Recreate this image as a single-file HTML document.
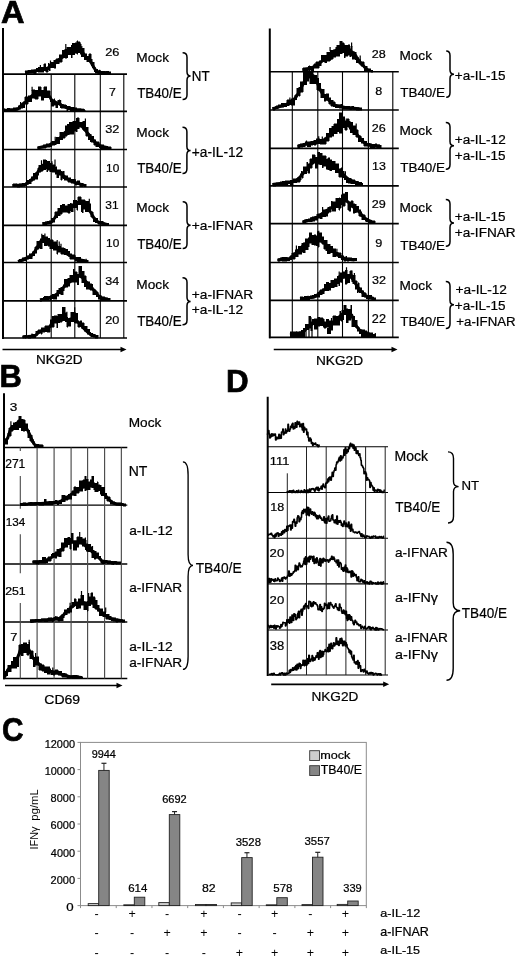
<!DOCTYPE html>
<html><head><meta charset="utf-8"><style>
html,body{margin:0;padding:0;background:#fff;width:520px;height:960px;overflow:hidden}
svg{display:block;will-change:transform}
text{font-family:"Liberation Sans",sans-serif}
</style></head><body>
<svg width="520" height="960" viewBox="0 0 520 960" font-family="Liberation Sans, sans-serif">
<rect width="520" height="960" fill="#fff"/>
<text x="1.04" y="22.85" font-size="31.30" font-weight="bold" stroke="#000" stroke-width="0.7" fill="#000" textLength="23.50" lengthAdjust="spacingAndGlyphs">A</text>
<text x="-0.46" y="387.35" font-size="31.88" font-weight="bold" stroke="#000" stroke-width="0.7" fill="#000" textLength="22.38" lengthAdjust="spacingAndGlyphs">B</text>
<text x="226.01" y="391.95" font-size="32.03" font-weight="bold" stroke="#000" stroke-width="0.7" fill="#000" textLength="22.66" lengthAdjust="spacingAndGlyphs">D</text>
<text x="2.06" y="740.82" font-size="33.10" font-weight="bold" stroke="#000" stroke-width="0.7" fill="#000" textLength="21.50" lengthAdjust="spacingAndGlyphs">C</text>
<line x1="3" y1="28" x2="3" y2="339" stroke="#000" stroke-width="2"/>
<line x1="2" y1="74.2" x2="127" y2="74.2" stroke="#000" stroke-width="1.7"/>
<line x1="2" y1="111.3" x2="127" y2="111.3" stroke="#000" stroke-width="1.7"/>
<line x1="2" y1="149.5" x2="127" y2="149.5" stroke="#000" stroke-width="1.7"/>
<line x1="2" y1="187.0" x2="127" y2="187.0" stroke="#000" stroke-width="1.7"/>
<line x1="2" y1="225.3" x2="127" y2="225.3" stroke="#000" stroke-width="1.7"/>
<line x1="2" y1="262.5" x2="127" y2="262.5" stroke="#000" stroke-width="1.7"/>
<line x1="2" y1="300.8" x2="127" y2="300.8" stroke="#000" stroke-width="1.7"/>
<line x1="2" y1="338.0" x2="127" y2="338.0" stroke="#000" stroke-width="1.7"/>
<line x1="26.5" y1="74.2" x2="26.5" y2="338.0" stroke="#000" stroke-width="1.1"/>
<line x1="51.2" y1="74.2" x2="51.2" y2="338.0" stroke="#000" stroke-width="1.1"/>
<line x1="74.8" y1="74.2" x2="74.8" y2="338.0" stroke="#000" stroke-width="1.1"/>
<line x1="100.3" y1="74.2" x2="100.3" y2="338.0" stroke="#000" stroke-width="1.1"/>
<line x1="123.8" y1="74.2" x2="123.8" y2="338.0" stroke="#000" stroke-width="1.1"/>
<path d="M25.0,70.8h2.2V73.5h-2.2ZM27.2,70.6h1.1V73.7h-1.1ZM28.3,70.2h2.2V73.3h-2.2ZM30.5,69.7h3.3V73.4h-3.3ZM33.8,69.8h2.2V73.6h-2.2ZM36.0,68.3h2.2V71.6h-2.2ZM38.2,67.3h3.3V72.3h-3.3ZM41.5,67.1h2.2V72.0h-2.2ZM43.7,63.5h2.2V70.7h-2.2ZM45.9,67.1h2.2V72.3h-2.2ZM48.1,63.4h1.1V69.8h-1.1ZM49.2,64.0h1.1V70.9h-1.1ZM50.3,62.0h3.3V67.7h-3.3ZM53.6,60.1h2.2V68.1h-2.2ZM55.8,58.6h3.3V63.8h-3.3ZM59.1,54.9h3.3V62.1h-3.3ZM62.4,50.1h2.2V57.6h-2.2ZM64.6,49.3h2.2V58.3h-2.2ZM66.8,47.1h1.1V57.9h-1.1ZM67.9,47.0h3.3V54.7h-3.3ZM71.2,45.1h1.1V57.8h-1.1ZM72.3,43.0h2.2V54.9h-2.2ZM74.5,42.9h2.2V53.2h-2.2ZM76.7,40.5h1.1V54.4h-1.1ZM77.8,41.7h2.2V52.7h-2.2ZM80.0,43.7h1.1V54.2h-1.1ZM81.1,48.3h3.3V56.8h-3.3ZM84.4,53.8h2.2V59.8h-2.2ZM86.6,56.2h2.2V61.7h-2.2ZM88.8,53.8h2.2V61.0h-2.2ZM91.0,59.4h1.1V65.8h-1.1ZM92.1,62.4h2.2V67.7h-2.2ZM94.3,66.8h1.1V71.5h-1.1ZM95.4,69.4h2.2V73.0h-2.2ZM97.6,70.9h3.3V73.5h-3.3ZM100.9,71.4h3.3V73.9h-3.3ZM104.2,71.7h2.2V74.7h-2.2ZM106.4,71.3h2.2V73.9h-2.2ZM108.6,71.7h2.2V74.2h-2.2Z" fill="#000" stroke="#000" stroke-width="0.5" shape-rendering="crispEdges"/>
<path d="M40.4,68.3V65.0M50.5,63.0V60.4M65.8,50.3V43.9M81.8,49.3V45.9M99.6,71.9V69.8" fill="none" stroke="#000" stroke-width="1.2"/>
<path d="M25.0,72.5L27.2,72.2L28.3,72.0L30.5,71.7L33.8,71.2L36.0,70.7L38.2,70.0L41.5,69.4L43.7,69.2L45.9,69.0L48.1,67.7L49.2,67.0L50.3,66.3L53.6,64.7L55.8,62.4L59.1,59.4L62.4,57.3L64.6,55.4L66.8,51.8L67.9,51.0L71.2,49.0L72.3,48.6L74.5,47.9L76.7,47.2L77.8,47.1L80.0,47.5L81.1,49.5L84.4,55.2L86.6,58.1L88.8,59.6L91.0,62.3L92.1,64.3L94.3,68.2L95.4,69.8L97.6,71.7L100.9,72.2L104.2,72.5L106.4,72.7L108.6,72.9" fill="none" stroke="#000" stroke-width="3.0" stroke-linejoin="round"/>
<path d="M4.0,108.9h1.1V111.1h-1.1ZM5.1,109.0h2.2V111.1h-2.2ZM7.3,108.0h2.2V111.9h-2.2ZM9.5,108.8h2.2V111.2h-2.2ZM11.7,109.0h1.1V111.8h-1.1ZM12.8,107.9h3.3V110.7h-3.3ZM16.1,107.7h2.2V110.3h-2.2ZM18.3,105.6h2.2V109.4h-2.2ZM20.5,103.9h2.2V108.4h-2.2ZM22.7,101.8h2.2V107.9h-2.2ZM24.9,96.9h3.3V104.1h-3.3ZM28.2,95.8h3.3V101.6h-3.3ZM31.5,89.7h3.3V98.4h-3.3ZM34.8,90.1h3.3V99.2h-3.3ZM38.1,86.5h3.3V96.2h-3.3ZM41.4,90.0h2.2V100.2h-2.2ZM43.6,86.5h3.3V97.5h-3.3ZM46.9,90.5h3.3V97.9h-3.3ZM50.2,96.5h1.1V101.7h-1.1ZM51.3,100.5h2.2V106.0h-2.2ZM53.5,98.7h1.1V105.0h-1.1ZM54.6,100.7h1.1V105.3h-1.1ZM55.7,102.0h2.2V107.7h-2.2ZM57.9,100.0h1.1V104.6h-1.1ZM59.0,99.8h1.1V104.8h-1.1ZM60.1,102.6h1.1V107.7h-1.1ZM61.2,104.1h2.2V108.1h-2.2ZM63.4,104.7h2.2V108.0h-2.2ZM65.6,105.1h1.1V108.7h-1.1ZM66.7,106.0h1.1V110.5h-1.1ZM67.8,106.4h2.2V109.9h-2.2ZM70.0,107.7h2.2V110.9h-2.2ZM72.2,107.4h2.2V110.6h-2.2ZM74.4,107.6h2.2V110.5h-2.2ZM76.6,108.5h3.3V111.6h-3.3ZM79.9,108.8h1.1V111.0h-1.1ZM81.0,109.1h3.3V111.8h-3.3ZM84.3,109.7h1.1V111.9h-1.1Z" fill="#000" stroke="#000" stroke-width="0.5" shape-rendering="crispEdges"/>
<path d="M20.6,104.9V102.0M32.1,90.7V86.7M60.6,103.6V100.1M83.3,110.1V108.7" fill="none" stroke="#000" stroke-width="1.2"/>
<path d="M4.0,110.3L5.1,110.3L7.3,110.2L9.5,110.1L11.7,110.0L12.8,109.9L16.1,109.3L18.3,108.7L20.5,106.1L22.7,104.2L24.9,102.6L28.2,100.2L31.5,96.1L34.8,93.5L38.1,92.2L41.4,92.7L43.6,93.0L46.9,93.4L50.2,97.4L51.3,99.6L53.5,101.5L54.6,101.9L55.7,102.3L57.9,103.2L59.0,103.8L60.1,104.4L61.2,105.0L63.4,106.1L65.6,107.2L66.7,107.4L67.8,107.7L70.0,108.2L72.2,108.8L74.4,109.3L76.6,109.7L79.9,110.0L81.0,110.1L84.3,110.4" fill="none" stroke="#000" stroke-width="3.0" stroke-linejoin="round"/>
<path d="M37.5,146.6h2.2V149.5h-2.2ZM39.7,146.0h3.3V148.4h-3.3ZM43.0,144.5h3.3V148.3h-3.3ZM46.3,143.6h3.3V147.4h-3.3ZM49.6,142.5h2.2V146.9h-2.2ZM51.8,141.1h3.3V145.4h-3.3ZM55.1,139.7h1.1V144.9h-1.1ZM56.2,137.2h3.3V143.5h-3.3ZM59.5,132.3h3.3V139.9h-3.3ZM62.8,132.7h2.2V138.2h-2.2ZM65.0,125.8h2.2V136.0h-2.2ZM67.2,124.0h2.2V134.6h-2.2ZM69.4,122.1h3.3V134.1h-3.3ZM72.7,121.1h1.1V134.1h-1.1ZM73.8,121.4h2.2V131.4h-2.2ZM76.0,118.0h1.1V131.7h-1.1ZM77.1,117.7h2.2V128.7h-2.2ZM79.3,122.0h3.3V127.4h-3.3ZM82.6,121.4h2.2V130.3h-2.2ZM84.8,123.3h1.1V130.8h-1.1ZM85.9,127.2h2.2V136.1h-2.2ZM88.1,133.9h2.2V139.6h-2.2ZM90.3,134.2h1.1V141.7h-1.1ZM91.4,136.1h2.2V142.3h-2.2ZM93.6,139.8h2.2V145.1h-2.2ZM95.8,141.9h3.3V146.6h-3.3ZM99.1,143.6h1.1V147.9h-1.1ZM100.2,144.6h3.3V148.8h-3.3ZM103.5,146.0h3.3V149.2h-3.3ZM106.8,146.0h1.1V149.1h-1.1ZM107.9,146.6h3.3V149.1h-3.3Z" fill="#000" stroke="#000" stroke-width="0.5" shape-rendering="crispEdges"/>
<path d="M55.2,140.7V136.8M85.4,124.3V118.4" fill="none" stroke="#000" stroke-width="1.2"/>
<path d="M37.5,148.0L39.7,147.5L43.0,146.7L46.3,145.9L49.6,145.1L51.8,144.0L55.1,142.3L56.2,141.7L59.5,138.7L62.8,135.0L65.0,132.5L67.2,130.9L69.4,129.2L72.7,126.5L73.8,125.5L76.0,123.5L77.1,122.4L79.3,123.5L82.6,127.0L84.8,129.7L85.9,131.1L88.1,133.7L90.3,136.4L91.4,137.8L93.6,140.7L95.8,143.1L99.1,145.4L100.2,146.0L103.5,146.7L106.8,147.4L107.9,147.6" fill="none" stroke="#000" stroke-width="3.0" stroke-linejoin="round"/>
<path d="M12.5,183.8h2.2V186.7h-2.2ZM14.7,183.7h1.1V186.7h-1.1ZM15.8,183.7h1.1V186.4h-1.1ZM16.9,184.3h2.2V187.3h-2.2ZM19.1,183.9h1.1V187.1h-1.1ZM20.2,183.6h2.2V186.6h-2.2ZM22.4,183.2h2.2V186.3h-2.2ZM24.6,182.5h2.2V185.3h-2.2ZM26.8,180.1h2.2V184.2h-2.2ZM29.0,179.3h2.2V183.9h-2.2ZM31.2,176.7h2.2V181.1h-2.2ZM33.4,173.3h1.1V180.4h-1.1ZM34.5,172.9h3.3V179.4h-3.3ZM37.8,167.8h1.1V175.4h-1.1ZM38.9,165.0h2.2V172.1h-2.2ZM41.1,164.9h2.2V171.0h-2.2ZM43.3,159.5h2.2V169.6h-2.2ZM45.5,160.3h1.1V168.7h-1.1ZM46.6,161.4h1.1V171.6h-1.1ZM47.7,161.2h2.2V170.2h-2.2ZM49.9,163.4h2.2V171.8h-2.2ZM52.1,164.8h1.1V172.2h-1.1ZM53.2,164.8h2.2V172.1h-2.2ZM55.4,166.7h1.1V174.1h-1.1ZM56.5,169.9h2.2V177.7h-2.2ZM58.7,169.8h2.2V175.0h-2.2ZM60.9,171.3h1.1V180.1h-1.1ZM62.0,171.7h1.1V178.2h-1.1ZM63.1,171.4h1.1V178.7h-1.1ZM64.2,175.8h3.3V180.4h-3.3ZM67.5,177.8h3.3V182.0h-3.3ZM70.8,179.2h2.2V183.3h-2.2ZM73.0,179.4h2.2V183.0h-2.2ZM75.2,181.5h2.2V185.0h-2.2ZM77.4,180.7h2.2V184.8h-2.2ZM79.6,183.2h3.3V186.9h-3.3ZM82.9,183.8h1.1V186.3h-1.1ZM84.0,184.0h2.2V186.9h-2.2Z" fill="#000" stroke="#000" stroke-width="0.5" shape-rendering="crispEdges"/>
<path d="M37.5,173.9V170.9M41.5,165.9V160.3M51.9,164.4V161.3M55.0,165.8V159.6M75.3,182.5V179.5" fill="none" stroke="#000" stroke-width="1.2"/>
<path d="M12.5,185.5L14.7,185.4L15.8,185.4L16.9,185.3L19.1,185.2L20.2,185.2L22.4,185.1L24.6,185.0L26.8,183.6L29.0,181.8L31.2,179.9L33.4,177.9L34.5,176.9L37.8,172.1L38.9,170.4L41.1,167.3L43.3,165.0L45.5,164.5L46.6,165.1L47.7,165.6L49.9,166.9L52.1,168.5L53.2,169.5L55.4,170.8L56.5,171.3L58.7,172.4L60.9,173.7L62.0,174.6L63.1,175.5L64.2,176.4L67.5,179.0L70.8,180.5L73.0,181.6L75.2,182.6L77.4,183.2L79.6,183.9L82.9,184.9L84.0,185.2" fill="none" stroke="#000" stroke-width="3.0" stroke-linejoin="round"/>
<path d="M42.5,222.2h2.2V225.5h-2.2ZM44.7,221.9h1.1V224.9h-1.1ZM45.8,222.2h1.1V225.0h-1.1ZM46.9,221.4h2.2V224.1h-2.2ZM49.1,220.9h2.2V224.4h-2.2ZM51.3,218.4h3.3V222.1h-3.3ZM54.6,211.8h3.3V217.9h-3.3ZM57.9,208.4h2.2V215.8h-2.2ZM60.1,205.0h2.2V214.0h-2.2ZM62.3,204.1h2.2V212.1h-2.2ZM64.5,205.9h3.3V212.2h-3.3ZM67.8,204.3h2.2V213.1h-2.2ZM70.0,203.2h1.1V210.7h-1.1ZM71.1,203.5h2.2V211.7h-2.2ZM73.3,200.0h3.3V207.7h-3.3ZM76.6,201.2h1.1V210.1h-1.1ZM77.7,196.6h3.3V204.6h-3.3ZM81.0,199.5h1.1V211.7h-1.1ZM82.1,199.5h1.1V212.5h-1.1ZM83.2,199.7h2.2V209.2h-2.2ZM85.4,201.3h3.3V211.6h-3.3ZM88.7,203.9h2.2V211.4h-2.2ZM90.9,211.8h2.2V217.0h-2.2ZM93.1,217.0h2.2V221.7h-2.2ZM95.3,218.2h2.2V222.8h-2.2ZM97.5,221.4h2.2V224.1h-2.2ZM99.7,221.2h3.3V224.2h-3.3ZM103.0,222.5h2.2V224.9h-2.2ZM105.2,223.2h1.1V225.4h-1.1ZM106.3,223.3h2.2V225.5h-2.2Z" fill="#000" stroke="#000" stroke-width="0.5" shape-rendering="crispEdges"/>
<path d="M89.3,204.9V198.8" fill="none" stroke="#000" stroke-width="1.2"/>
<path d="M42.5,223.8L44.7,223.4L45.8,223.2L46.9,223.0L49.1,222.6L51.3,222.2L54.6,218.1L57.9,213.2L60.1,211.0L62.3,210.7L64.5,210.4L67.8,209.8L70.0,208.0L71.1,207.1L73.3,205.4L76.6,203.0L77.7,202.8L81.0,203.2L82.1,204.0L83.2,204.7L85.4,206.4L88.7,209.7L90.9,212.6L93.1,216.6L95.3,220.2L97.5,221.5L99.7,222.8L103.0,223.6L105.2,224.0L106.3,224.3" fill="none" stroke="#000" stroke-width="3.0" stroke-linejoin="round"/>
<path d="M18.0,260.1h1.1V262.3h-1.1ZM19.1,259.3h3.3V262.3h-3.3ZM22.4,257.5h1.1V261.3h-1.1ZM23.5,257.5h3.3V260.8h-3.3ZM26.8,255.5h2.2V259.3h-2.2ZM29.0,253.7h3.3V258.5h-3.3ZM32.3,251.7h2.2V255.9h-2.2ZM34.5,246.5h2.2V253.4h-2.2ZM36.7,241.1h2.2V249.2h-2.2ZM38.9,240.7h1.1V248.4h-1.1ZM40.0,238.9h2.2V248.5h-2.2ZM42.2,235.0h2.2V242.7h-2.2ZM44.4,236.9h2.2V245.9h-2.2ZM46.6,236.6h1.1V245.4h-1.1ZM47.7,238.2h2.2V246.4h-2.2ZM49.9,239.6h3.3V248.6h-3.3ZM53.2,241.7h3.3V250.4h-3.3ZM56.5,244.7h1.1V254.3h-1.1ZM57.6,246.4h3.3V252.1h-3.3ZM60.9,247.6h3.3V254.3h-3.3ZM64.2,248.3h1.1V254.7h-1.1ZM65.3,249.4h2.2V254.6h-2.2ZM67.5,251.4h2.2V256.4h-2.2ZM69.7,253.9h2.2V259.4h-2.2ZM71.9,254.7h3.3V259.0h-3.3ZM75.2,257.1h2.2V261.1h-2.2ZM77.4,257.4h3.3V261.5h-3.3ZM80.7,259.1h3.3V262.1h-3.3ZM84.0,260.1h3.3V262.8h-3.3ZM87.3,260.2h1.1V262.6h-1.1Z" fill="#000" stroke="#000" stroke-width="0.5" shape-rendering="crispEdges"/>
<path d="M41.8,239.9V233.7M44.9,237.9V233.4M57.2,245.7V239.9M59.2,247.4V241.5M61.0,248.6V243.7M86.1,261.1V258.8" fill="none" stroke="#000" stroke-width="1.2"/>
<path d="M18.0,261.5L19.1,261.1L22.4,259.9L23.5,259.4L26.8,258.0L29.0,256.8L32.3,254.9L34.5,252.0L36.7,248.2L38.9,244.2L40.0,242.8L42.2,240.5L44.4,241.0L46.6,241.4L47.7,242.2L49.9,244.4L53.2,246.5L56.5,247.3L57.6,247.4L60.9,250.0L64.2,252.3L65.3,253.0L67.5,254.2L69.7,255.4L71.9,256.4L75.2,258.1L77.4,259.1L80.7,259.9L84.0,260.7L87.3,261.5" fill="none" stroke="#000" stroke-width="3.0" stroke-linejoin="round"/>
<path d="M40.0,298.8h2.2V301.0h-2.2ZM42.2,298.1h1.1V300.6h-1.1ZM43.3,297.3h1.1V299.9h-1.1ZM44.4,296.4h3.3V300.0h-3.3ZM47.7,296.5h1.1V300.2h-1.1ZM48.8,296.3h1.1V299.4h-1.1ZM49.9,295.6h1.1V299.5h-1.1ZM51.0,295.0h1.1V298.8h-1.1ZM52.1,294.4h1.1V298.6h-1.1ZM53.2,294.0h3.3V299.0h-3.3ZM56.5,290.0h2.2V296.1h-2.2ZM58.7,288.3h2.2V293.6h-2.2ZM60.9,287.3h2.2V294.8h-2.2ZM63.1,284.6h1.1V290.5h-1.1ZM64.2,279.2h3.3V287.1h-3.3ZM67.5,278.3h2.2V286.4h-2.2ZM69.7,275.4h3.3V282.2h-3.3ZM73.0,269.0h1.1V282.3h-1.1ZM74.1,271.8h3.3V282.3h-3.3ZM77.4,274.4h1.1V284.8h-1.1ZM78.5,266.0h3.3V276.0h-3.3ZM81.8,271.1h2.2V282.7h-2.2ZM84.0,275.6h2.2V286.7h-2.2ZM86.2,281.6h3.3V289.1h-3.3ZM89.5,283.6h2.2V290.0h-2.2ZM91.7,284.4h1.1V289.9h-1.1ZM92.8,289.8h3.3V294.6h-3.3ZM96.1,291.9h2.2V296.7h-2.2ZM98.3,295.2h2.2V299.2h-2.2ZM100.5,295.7h1.1V299.9h-1.1ZM101.6,296.7h3.3V299.8h-3.3ZM104.9,297.6h3.3V300.0h-3.3ZM108.2,298.4h2.2V300.6h-2.2Z" fill="#000" stroke="#000" stroke-width="0.5" shape-rendering="crispEdges"/>
<path d="M40.0,300.0L42.2,299.4L43.3,299.2L44.4,298.9L47.7,298.1L48.8,297.8L49.9,297.5L51.0,297.1L52.1,296.7L53.2,296.2L56.5,294.4L58.7,292.7L60.9,290.6L63.1,287.9L64.2,286.5L67.5,283.6L69.7,282.0L73.0,279.5L74.1,278.7L77.4,276.6L78.5,275.9L81.8,277.0L84.0,279.4L86.2,281.7L89.5,285.0L91.7,287.6L92.8,289.0L96.1,293.0L98.3,295.5L100.5,297.6L101.6,297.9L104.9,298.7L108.2,299.6" fill="none" stroke="#000" stroke-width="3.0" stroke-linejoin="round"/>
<path d="M22.5,335.7h2.2V337.9h-2.2ZM24.7,335.4h1.1V338.1h-1.1ZM25.8,335.5h2.2V337.9h-2.2ZM28.0,335.2h3.3V338.0h-3.3ZM31.3,334.7h1.1V337.8h-1.1ZM32.4,334.4h3.3V337.7h-3.3ZM35.7,331.4h2.2V335.4h-2.2ZM37.9,329.5h3.3V333.1h-3.3ZM41.2,327.9h1.1V334.1h-1.1ZM42.3,327.9h2.2V332.3h-2.2ZM44.5,325.6h2.2V331.7h-2.2ZM46.7,325.8h3.3V332.2h-3.3ZM50.0,319.7h2.2V327.3h-2.2ZM52.2,316.4h2.2V327.4h-2.2ZM54.4,315.9h2.2V323.1h-2.2ZM56.6,316.3h1.1V327.6h-1.1ZM57.7,314.0h2.2V322.7h-2.2ZM59.9,314.3h2.2V322.3h-2.2ZM62.1,307.0h3.3V320.6h-3.3ZM65.4,312.9h1.1V321.7h-1.1ZM66.5,317.4h1.1V327.0h-1.1ZM67.6,318.5h3.3V326.3h-3.3ZM70.9,312.0h3.3V321.9h-3.3ZM74.2,312.3h1.1V322.7h-1.1ZM75.3,313.2h2.2V323.1h-2.2ZM77.5,322.1h2.2V327.0h-2.2ZM79.7,320.5h2.2V326.9h-2.2ZM81.9,322.9h2.2V328.9h-2.2ZM84.1,326.2h3.3V331.3h-3.3ZM87.4,329.4h2.2V334.3h-2.2ZM89.6,332.0h1.1V335.9h-1.1ZM90.7,333.2h2.2V336.6h-2.2ZM92.9,334.3h2.2V337.1h-2.2ZM95.1,335.3h3.3V338.0h-3.3Z" fill="#000" stroke="#000" stroke-width="0.5" shape-rendering="crispEdges"/>
<path d="M32.0,335.7V333.4M66.9,318.4V311.7M74.7,313.3V307.3" fill="none" stroke="#000" stroke-width="1.2"/>
<path d="M22.5,337.0L24.7,336.8L25.8,336.7L28.0,336.6L31.3,336.3L32.4,336.2L35.7,335.3L37.9,333.1L41.2,331.0L42.3,330.4L44.5,330.1L46.7,329.7L50.0,326.5L52.2,322.6L54.4,320.7L56.6,320.3L57.7,320.1L59.9,319.7L62.1,319.3L65.4,319.4L66.5,319.6L67.6,319.9L70.9,319.0L74.2,319.2L75.3,319.7L77.5,321.5L79.7,323.8L81.9,326.3L84.1,328.6L87.4,331.8L89.6,333.7L90.7,334.3L92.9,335.2L95.1,336.0" fill="none" stroke="#000" stroke-width="3.0" stroke-linejoin="round"/>
<text x="105.16" y="56.18" font-size="11.83" stroke="#000" stroke-width="0.22" fill="#000" textLength="14.25" lengthAdjust="spacingAndGlyphs">26</text>
<text x="109.08" y="96.30" font-size="11.59" stroke="#000" stroke-width="0.22" fill="#000" textLength="6.85" lengthAdjust="spacingAndGlyphs">7</text>
<text x="105.29" y="133.18" font-size="11.69" stroke="#000" stroke-width="0.22" fill="#000" textLength="14.18" lengthAdjust="spacingAndGlyphs">32</text>
<text x="106.11" y="171.88" font-size="11.69" stroke="#000" stroke-width="0.22" fill="#000" textLength="13.19" lengthAdjust="spacingAndGlyphs">10</text>
<text x="105.32" y="209.08" font-size="11.83" stroke="#000" stroke-width="0.22" fill="#000" textLength="13.30" lengthAdjust="spacingAndGlyphs">31</text>
<text x="106.11" y="247.38" font-size="11.69" stroke="#000" stroke-width="0.22" fill="#000" textLength="13.19" lengthAdjust="spacingAndGlyphs">10</text>
<text x="105.30" y="285.08" font-size="11.55" stroke="#000" stroke-width="0.22" fill="#000" textLength="13.90" lengthAdjust="spacingAndGlyphs">34</text>
<text x="105.16" y="324.08" font-size="11.83" stroke="#000" stroke-width="0.22" fill="#000" textLength="14.18" lengthAdjust="spacingAndGlyphs">20</text>
<text x="136.31" y="61.86" font-size="13.61" stroke="#000" stroke-width="0.22" fill="#000" textLength="32.68" lengthAdjust="spacingAndGlyphs">Mock</text>
<text x="136.31" y="136.86" font-size="13.61" stroke="#000" stroke-width="0.22" fill="#000" textLength="32.68" lengthAdjust="spacingAndGlyphs">Mock</text>
<text x="136.31" y="211.86" font-size="13.61" stroke="#000" stroke-width="0.22" fill="#000" textLength="32.68" lengthAdjust="spacingAndGlyphs">Mock</text>
<text x="136.31" y="288.66" font-size="13.61" stroke="#000" stroke-width="0.22" fill="#000" textLength="32.68" lengthAdjust="spacingAndGlyphs">Mock</text>
<text x="137.13" y="97.76" font-size="13.74" stroke="#000" stroke-width="0.22" fill="#000" textLength="44.50" lengthAdjust="spacingAndGlyphs">TB40/E</text>
<text x="137.13" y="172.86" font-size="13.74" stroke="#000" stroke-width="0.22" fill="#000" textLength="44.50" lengthAdjust="spacingAndGlyphs">TB40/E</text>
<text x="137.13" y="248.66" font-size="13.74" stroke="#000" stroke-width="0.22" fill="#000" textLength="44.50" lengthAdjust="spacingAndGlyphs">TB40/E</text>
<text x="137.13" y="325.66" font-size="13.74" stroke="#000" stroke-width="0.22" fill="#000" textLength="44.50" lengthAdjust="spacingAndGlyphs">TB40/E</text>
<path d="M182.6,52.7 Q187.0,52.7 187.0,57.2 L187.0,71.8 Q187.0,76.0 190.6,76.0 Q187.0,76.0 187.0,80.2 L187.0,94.9 Q187.0,99.4 182.6,99.4" fill="none" stroke="#000" stroke-width="1.5"/>
<text x="191.73" y="80.90" font-size="14.35" stroke="#000" stroke-width="0.22" fill="#000" textLength="17.88" lengthAdjust="spacingAndGlyphs">NT</text>
<path d="M182.5,127.3 Q186.9,127.3 186.9,131.8 L186.9,146.4 Q186.9,150.6 190.6,150.6 Q186.9,150.6 186.9,154.8 L186.9,169.1 Q186.9,173.6 182.5,173.6" fill="none" stroke="#000" stroke-width="1.5"/>
<text x="191.82" y="156.86" font-size="14.08" stroke="#000" stroke-width="0.22" fill="#000" textLength="51.41" lengthAdjust="spacingAndGlyphs">+a-IL-12</text>
<path d="M182.7,201.8 Q187.0,201.8 187.0,206.3 L187.0,221.0 Q187.0,225.2 190.6,225.2 Q187.0,225.2 187.0,229.4 L187.0,244.0 Q187.0,248.5 182.7,248.5" fill="none" stroke="#000" stroke-width="1.5"/>
<text x="191.81" y="230.37" font-size="13.21" stroke="#000" stroke-width="0.22" fill="#000" textLength="61.35" lengthAdjust="spacingAndGlyphs">+a-IFNAR</text>
<path d="M182.5,277.8 Q187.0,277.8 187.0,282.3 L187.0,297.3 Q187.0,301.5 190.6,301.5 Q187.0,301.5 187.0,305.7 L187.0,320.3 Q187.0,324.8 182.5,324.8" fill="none" stroke="#000" stroke-width="1.5"/>
<text x="191.81" y="298.62" font-size="13.21" stroke="#000" stroke-width="0.22" fill="#000" textLength="61.35" lengthAdjust="spacingAndGlyphs">+a-IFNAR</text>
<text x="191.82" y="314.37" font-size="13.38" stroke="#000" stroke-width="0.22" fill="#000" textLength="51.41" lengthAdjust="spacingAndGlyphs">+a-IL-12</text>
<line x1="2.5" y1="349.5" x2="121.5" y2="349.5" stroke="#000" stroke-width="1.5"/>
<path d="M120.5,346.7 L126.5,349.5 L120.5,352.3 Z" fill="#000"/>
<text x="35.92" y="364.37" font-size="12.68" stroke="#000" stroke-width="0.22" fill="#000" textLength="46.70" lengthAdjust="spacingAndGlyphs">NKG2D</text>
<line x1="269.8" y1="28.5" x2="269.8" y2="338.3" stroke="#000" stroke-width="2"/>
<line x1="269" y1="71.75" x2="398.8" y2="71.75" stroke="#000" stroke-width="1.7"/>
<line x1="269" y1="110.0" x2="398.8" y2="110.0" stroke="#000" stroke-width="1.7"/>
<line x1="269" y1="148.3" x2="398.8" y2="148.3" stroke="#000" stroke-width="1.7"/>
<line x1="269" y1="185.8" x2="398.8" y2="185.8" stroke="#000" stroke-width="1.7"/>
<line x1="269" y1="223.7" x2="398.8" y2="223.7" stroke="#000" stroke-width="1.7"/>
<line x1="269" y1="262.5" x2="398.8" y2="262.5" stroke="#000" stroke-width="1.7"/>
<line x1="269" y1="300.3" x2="398.8" y2="300.3" stroke="#000" stroke-width="1.7"/>
<line x1="269" y1="337.3" x2="398.8" y2="337.3" stroke="#000" stroke-width="1.7"/>
<line x1="292.3" y1="71.75" x2="292.3" y2="337.3" stroke="#000" stroke-width="1.1"/>
<line x1="317.8" y1="71.75" x2="317.8" y2="337.3" stroke="#000" stroke-width="1.1"/>
<line x1="342.5" y1="71.75" x2="342.5" y2="337.3" stroke="#000" stroke-width="1.1"/>
<line x1="368.4" y1="71.75" x2="368.4" y2="337.3" stroke="#000" stroke-width="1.1"/>
<line x1="392.8" y1="71.75" x2="392.8" y2="337.3" stroke="#000" stroke-width="1.1"/>
<path d="M302.5,67.9h2.2V70.9h-2.2ZM304.7,67.7h3.3V71.3h-3.3ZM308.0,66.2h1.1V69.2h-1.1ZM309.1,66.2h2.2V70.0h-2.2ZM311.3,66.7h2.2V70.8h-2.2ZM313.5,63.7h2.2V68.3h-2.2ZM315.7,61.5h3.3V68.0h-3.3ZM319.0,60.6h2.2V65.9h-2.2ZM321.2,55.2h3.3V61.7h-3.3ZM324.5,55.0h2.2V62.5h-2.2ZM326.7,52.4h3.3V61.2h-3.3ZM330.0,50.3h1.1V60.4h-1.1ZM331.1,50.4h2.2V59.4h-2.2ZM333.3,49.9h2.2V57.0h-2.2ZM335.5,47.0h1.1V56.2h-1.1ZM336.6,45.0h3.3V56.1h-3.3ZM339.9,41.0h2.2V53.8h-2.2ZM342.1,42.8h2.2V52.7h-2.2ZM344.3,44.9h1.1V57.9h-1.1ZM345.4,45.0h2.2V56.0h-2.2ZM347.6,44.8h2.2V55.0h-2.2ZM349.8,48.8h1.1V56.6h-1.1ZM350.9,45.8h1.1V56.3h-1.1ZM352.0,51.9h3.3V59.0h-3.3ZM355.3,52.3h1.1V59.8h-1.1ZM356.4,57.8h2.2V62.6h-2.2ZM358.6,59.7h2.2V64.0h-2.2ZM360.8,61.5h3.3V66.3h-3.3ZM364.1,66.4h3.3V70.5h-3.3ZM367.4,68.9h3.3V71.4h-3.3ZM370.7,70.1h2.2V72.2h-2.2Z" fill="#000" stroke="#000" stroke-width="0.5" shape-rendering="crispEdges"/>
<path d="M330.1,51.3V47.1M351.6,46.8V42.4M360.2,60.7V55.5" fill="none" stroke="#000" stroke-width="1.2"/>
<path d="M302.5,70.0L304.7,69.5L308.0,68.6L309.1,68.3L311.3,67.8L313.5,66.9L315.7,65.6L319.0,63.5L321.2,61.8L324.5,59.1L326.7,57.5L330.0,55.0L331.1,54.1L333.3,52.4L335.5,50.6L336.6,49.9L339.9,49.3L342.1,49.1L344.3,49.5L345.4,49.7L347.6,50.0L349.8,50.9L350.9,51.4L352.0,51.8L355.3,55.1L356.4,56.9L358.6,60.1L360.8,62.9L364.1,66.6L367.4,69.9L370.7,70.7" fill="none" stroke="#000" stroke-width="3.0" stroke-linejoin="round"/>
<path d="M272.5,107.4h2.2V110.0h-2.2ZM274.7,106.8h1.1V109.4h-1.1ZM275.8,105.6h2.2V108.9h-2.2ZM278.0,104.5h3.3V107.4h-3.3ZM281.3,103.0h2.2V107.0h-2.2ZM283.5,103.2h3.3V106.9h-3.3ZM286.8,99.8h2.2V105.5h-2.2ZM289.0,99.8h2.2V104.7h-2.2ZM291.2,98.8h3.3V105.4h-3.3ZM294.5,94.5h2.2V99.6h-2.2ZM296.7,88.2h2.2V95.1h-2.2ZM298.9,87.2h1.1V96.4h-1.1ZM300.0,81.9h3.3V92.3h-3.3ZM303.3,71.2h3.3V84.6h-3.3ZM306.6,70.9h2.2V81.0h-2.2ZM308.8,65.6h1.1V78.3h-1.1ZM309.9,71.0h3.3V83.6h-3.3ZM313.2,75.3h3.3V83.8h-3.3ZM316.5,78.0h2.2V90.4h-2.2ZM318.7,83.0h2.2V90.5h-2.2ZM320.9,89.3h3.3V97.8h-3.3ZM324.2,94.4h2.2V101.2h-2.2ZM326.4,93.5h2.2V100.3h-2.2ZM328.6,97.8h2.2V104.4h-2.2ZM330.8,100.4h2.2V106.0h-2.2ZM333.0,101.9h2.2V106.9h-2.2ZM335.2,104.5h3.3V107.8h-3.3ZM338.5,104.7h2.2V108.3h-2.2ZM340.7,104.4h2.2V108.1h-2.2ZM342.9,106.2h2.2V109.0h-2.2ZM345.1,106.3h2.2V109.4h-2.2ZM347.3,106.2h2.2V109.1h-2.2ZM349.5,106.5h2.2V109.5h-2.2ZM351.7,106.4h2.2V109.2h-2.2ZM353.9,107.3h2.2V109.9h-2.2ZM356.1,107.5h3.3V110.1h-3.3ZM359.4,107.7h2.2V110.3h-2.2Z" fill="#000" stroke="#000" stroke-width="0.5" shape-rendering="crispEdges"/>
<path d="M289.9,100.8V97.5M305.6,72.2V68.1" fill="none" stroke="#000" stroke-width="1.2"/>
<path d="M272.5,108.8L274.7,108.1L275.8,107.8L278.0,107.1L281.3,106.1L283.5,105.5L286.8,104.1L289.0,103.0L291.2,101.9L294.5,98.8L296.7,96.0L298.9,92.2L300.0,90.0L303.3,83.6L306.6,78.0L308.8,75.5L309.9,74.6L313.2,75.6L316.5,81.0L318.7,86.1L320.9,91.3L324.2,96.4L326.4,98.1L328.6,99.9L330.8,102.1L333.0,104.2L335.2,105.3L338.5,106.1L340.7,106.5L342.9,107.0L345.1,107.5L347.3,107.7L349.5,107.9L351.7,108.1L353.9,108.2L356.1,108.4L359.4,108.7" fill="none" stroke="#000" stroke-width="3.0" stroke-linejoin="round"/>
<path d="M297.5,144.7h2.2V147.8h-2.2ZM299.7,143.5h2.2V147.1h-2.2ZM301.9,143.5h1.1V147.4h-1.1ZM303.0,143.2h2.2V146.5h-2.2ZM305.2,141.9h2.2V145.0h-2.2ZM307.4,141.8h3.3V146.7h-3.3ZM310.7,141.2h2.2V145.4h-2.2ZM312.9,140.9h1.1V144.5h-1.1ZM314.0,140.3h2.2V145.0h-2.2ZM316.2,138.9h3.3V143.8h-3.3ZM319.5,139.2h1.1V144.2h-1.1ZM320.6,139.1h3.3V144.3h-3.3ZM323.9,137.7h2.2V144.2h-2.2ZM326.1,133.4h3.3V141.3h-3.3ZM329.4,128.4h2.2V137.2h-2.2ZM331.6,126.4h2.2V136.2h-2.2ZM333.8,123.5h3.3V133.8h-3.3ZM337.1,119.4h2.2V131.8h-2.2ZM339.3,112.5h3.3V133.3h-3.3ZM342.6,116.8h2.2V127.9h-2.2ZM344.8,120.9h2.2V130.2h-2.2ZM347.0,118.7h2.2V126.7h-2.2ZM349.2,121.2h1.1V129.2h-1.1ZM350.3,122.3h2.2V132.5h-2.2ZM352.5,125.8h3.3V134.6h-3.3ZM355.8,129.5h2.2V137.0h-2.2ZM358.0,135.5h3.3V141.8h-3.3ZM361.3,138.2h2.2V143.3h-2.2ZM363.5,141.1h3.3V146.4h-3.3ZM366.8,143.1h3.3V146.3h-3.3ZM370.1,143.7h2.2V147.7h-2.2ZM372.3,144.4h2.2V147.8h-2.2ZM374.5,143.8h2.2V147.4h-2.2ZM376.7,144.5h1.1V148.1h-1.1ZM377.8,144.5h2.2V147.6h-2.2ZM380.0,145.3h1.1V147.9h-1.1Z" fill="#000" stroke="#000" stroke-width="0.5" shape-rendering="crispEdges"/>
<path d="M306.5,142.9V140.6M318.7,139.9V136.2M322.3,140.1V136.5M346.3,121.9V118.5M356.2,130.5V123.6" fill="none" stroke="#000" stroke-width="1.2"/>
<path d="M297.5,146.2L299.7,145.7L301.9,145.2L303.0,144.9L305.2,144.3L307.4,143.8L310.7,143.3L312.9,143.1L314.0,142.9L316.2,142.7L319.5,141.8L320.6,141.5L323.9,140.4L326.1,138.6L329.4,134.5L331.6,132.5L333.8,130.9L337.1,128.4L339.3,126.8L342.6,123.0L344.8,123.9L347.0,124.8L349.2,126.3L350.3,127.1L352.5,128.8L355.8,132.9L358.0,135.6L361.3,139.8L363.5,142.0L366.8,144.5L370.1,145.3L372.3,145.5L374.5,145.7L376.7,145.9L377.8,146.0L380.0,146.2" fill="none" stroke="#000" stroke-width="3.0" stroke-linejoin="round"/>
<path d="M272.5,183.2h3.3V186.2h-3.3ZM275.8,182.9h1.1V185.9h-1.1ZM276.9,182.5h3.3V185.4h-3.3ZM280.2,181.6h1.1V185.1h-1.1ZM281.3,181.9h1.1V184.4h-1.1ZM282.4,181.4h2.2V184.7h-2.2ZM284.6,180.8h3.3V184.6h-3.3ZM287.9,180.6h2.2V183.6h-2.2ZM290.1,180.3h3.3V184.9h-3.3ZM293.4,178.5h3.3V182.7h-3.3ZM296.7,177.9h3.3V182.3h-3.3ZM300.0,173.8h1.1V180.2h-1.1ZM301.1,171.0h1.1V176.8h-1.1ZM302.2,171.8h1.1V178.2h-1.1ZM303.3,166.5h3.3V173.9h-3.3ZM306.6,162.0h1.1V170.7h-1.1ZM307.7,163.8h2.2V173.3h-2.2ZM309.9,158.5h2.2V168.0h-2.2ZM312.1,154.6h3.3V162.7h-3.3ZM315.4,157.2h2.2V168.0h-2.2ZM317.6,152.4h2.2V164.4h-2.2ZM319.8,153.0h2.2V164.6h-2.2ZM322.0,155.5h1.1V167.7h-1.1ZM323.1,155.8h3.3V166.2h-3.3ZM326.4,159.3h1.1V169.3h-1.1ZM327.5,157.5h2.2V169.6h-2.2ZM329.7,159.8h2.2V170.9h-2.2ZM331.9,161.1h3.3V169.7h-3.3ZM335.2,163.7h3.3V172.5h-3.3ZM338.5,168.5h2.2V177.2h-2.2ZM340.7,167.8h1.1V176.6h-1.1ZM341.8,171.0h2.2V177.8h-2.2ZM344.0,173.7h1.1V179.8h-1.1ZM345.1,175.4h1.1V179.6h-1.1ZM346.2,176.5h2.2V182.6h-2.2ZM348.4,178.2h2.2V183.4h-2.2ZM350.6,178.6h1.1V183.5h-1.1ZM351.7,179.5h3.3V183.9h-3.3ZM355.0,181.2h3.3V185.4h-3.3ZM358.3,181.7h1.1V185.4h-1.1ZM359.4,182.2h2.2V185.0h-2.2ZM361.6,183.2h1.1V185.6h-1.1Z" fill="#000" stroke="#000" stroke-width="0.5" shape-rendering="crispEdges"/>
<path d="M345.4,176.4V171.3" fill="none" stroke="#000" stroke-width="1.2"/>
<path d="M272.5,184.5L275.8,184.1L276.9,184.0L280.2,183.6L281.3,183.5L282.4,183.4L284.6,183.1L287.9,182.7L290.1,182.5L293.4,181.4L296.7,180.3L300.0,177.1L301.1,175.8L302.2,174.5L303.3,173.2L306.6,169.2L307.7,167.9L309.9,165.1L312.1,163.4L315.4,161.1L317.6,160.1L319.8,159.1L322.0,159.9L323.1,160.4L326.4,162.3L327.5,163.1L329.7,164.8L331.9,166.0L335.2,167.7L338.5,171.0L340.7,173.1L341.8,174.0L344.0,175.8L345.1,176.8L346.2,177.7L348.4,179.2L350.6,180.3L351.7,180.9L355.0,182.5L358.3,183.4L359.4,183.7L361.6,184.3" fill="none" stroke="#000" stroke-width="3.0" stroke-linejoin="round"/>
<path d="M302.5,220.6h1.1V223.4h-1.1ZM303.6,219.7h2.2V222.8h-2.2ZM305.8,219.1h2.2V221.7h-2.2ZM308.0,218.8h2.2V221.7h-2.2ZM310.2,217.9h2.2V221.7h-2.2ZM312.4,216.8h2.2V221.0h-2.2ZM314.6,216.0h2.2V220.4h-2.2ZM316.8,214.3h1.1V220.3h-1.1ZM317.9,213.9h2.2V218.0h-2.2ZM320.1,213.1h2.2V218.8h-2.2ZM322.3,209.8h3.3V216.9h-3.3ZM325.6,209.6h2.2V216.1h-2.2ZM327.8,207.4h1.1V213.4h-1.1ZM328.9,206.7h2.2V212.0h-2.2ZM331.1,201.3h1.1V208.6h-1.1ZM332.2,201.5h3.3V211.3h-3.3ZM335.5,198.2h3.3V207.5h-3.3ZM338.8,197.5h1.1V210.3h-1.1ZM339.9,198.3h1.1V208.4h-1.1ZM341.0,194.8h2.2V204.9h-2.2ZM343.2,193.9h2.2V206.4h-2.2ZM345.4,192.3h2.2V202.0h-2.2ZM347.6,201.0h1.1V209.7h-1.1ZM348.7,202.0h2.2V211.1h-2.2ZM350.9,200.5h2.2V207.1h-2.2ZM353.1,203.8h2.2V213.2h-2.2ZM355.3,204.3h1.1V212.5h-1.1ZM356.4,206.1h2.2V212.4h-2.2ZM358.6,209.7h2.2V216.1h-2.2ZM360.8,211.8h1.1V216.8h-1.1ZM361.9,214.5h3.3V219.9h-3.3ZM365.2,217.8h1.1V221.4h-1.1ZM366.3,218.2h2.2V221.7h-2.2ZM368.5,220.3h3.3V223.3h-3.3ZM371.8,220.6h3.3V222.9h-3.3Z" fill="#000" stroke="#000" stroke-width="0.5" shape-rendering="crispEdges"/>
<path d="M311.2,218.9V217.0M322.6,210.8V207.1" fill="none" stroke="#000" stroke-width="1.2"/>
<path d="M302.5,222.0L303.6,221.7L305.8,221.2L308.0,220.6L310.2,220.1L312.4,219.5L314.6,218.4L316.8,217.3L317.9,216.7L320.1,215.2L322.3,213.4L325.6,211.0L327.8,209.9L328.9,209.3L331.1,207.9L332.2,207.1L335.5,204.6L338.8,202.1L339.9,201.3L341.0,200.5L343.2,198.9L345.4,199.8L347.6,201.6L348.7,202.5L350.9,204.7L353.1,206.9L355.3,208.7L356.4,209.5L358.6,211.1L360.8,213.8L361.9,215.2L365.2,218.4L366.3,219.0L368.5,220.4L371.8,221.7" fill="none" stroke="#000" stroke-width="3.0" stroke-linejoin="round"/>
<path d="M277.5,258.7h2.2V261.2h-2.2ZM279.7,257.5h2.2V260.8h-2.2ZM281.9,257.3h2.2V261.1h-2.2ZM284.1,257.3h3.3V261.1h-3.3ZM287.4,257.7h2.2V260.9h-2.2ZM289.6,255.5h2.2V259.8h-2.2ZM291.8,253.4h1.1V258.8h-1.1ZM292.9,252.5h2.2V259.2h-2.2ZM295.1,249.6h3.3V256.9h-3.3ZM298.4,246.3h3.3V254.0h-3.3ZM301.7,243.3h1.1V251.6h-1.1ZM302.8,242.8h2.2V252.8h-2.2ZM305.0,238.7h3.3V249.8h-3.3ZM308.3,237.8h1.1V246.8h-1.1ZM309.4,232.7h2.2V243.4h-2.2ZM311.6,235.2h2.2V244.6h-2.2ZM313.8,234.9h2.2V245.1h-2.2ZM316.0,236.1h2.2V245.8h-2.2ZM318.2,236.7h1.1V247.0h-1.1ZM319.3,232.7h2.2V242.4h-2.2ZM321.5,236.7h2.2V244.2h-2.2ZM323.7,240.2h2.2V249.4h-2.2ZM325.9,240.4h1.1V250.7h-1.1ZM327.0,244.1h3.3V253.8h-3.3ZM330.3,246.4h2.2V252.5h-2.2ZM332.5,248.9h3.3V256.7h-3.3ZM335.8,252.2h2.2V256.4h-2.2ZM338.0,252.9h3.3V257.7h-3.3ZM341.3,255.7h2.2V259.8h-2.2ZM343.5,257.8h2.2V261.4h-2.2ZM345.7,256.4h1.1V260.8h-1.1ZM346.8,257.5h2.2V261.2h-2.2ZM349.0,257.8h3.3V260.9h-3.3ZM352.3,258.0h2.2V260.9h-2.2ZM354.5,258.3h2.2V260.9h-2.2Z" fill="#000" stroke="#000" stroke-width="0.5" shape-rendering="crispEdges"/>
<path d="M296.4,250.6V245.4M317.6,237.1V231.3M318.8,237.7V230.8M336.9,253.2V248.7" fill="none" stroke="#000" stroke-width="1.2"/>
<path d="M277.5,260.0L279.7,259.8L281.9,259.6L284.1,259.3L287.4,259.0L289.6,258.8L291.8,257.0L292.9,255.9L295.1,253.7L298.4,250.4L301.7,247.1L302.8,246.0L305.0,244.2L308.3,241.6L309.4,240.6L311.6,238.4L313.8,238.2L316.0,239.2L318.2,240.2L319.3,240.4L321.5,241.0L323.7,242.4L325.9,244.6L327.0,245.8L330.3,248.4L332.5,250.0L335.8,253.3L338.0,255.2L341.3,256.9L343.5,258.0L345.7,258.8L346.8,259.0L349.0,259.2L352.3,259.7L354.5,259.9" fill="none" stroke="#000" stroke-width="3.0" stroke-linejoin="round"/>
<path d="M300.0,296.5h3.3V299.8h-3.3ZM303.3,297.4h1.1V299.9h-1.1ZM304.4,296.4h3.3V299.6h-3.3ZM307.7,296.6h2.2V299.6h-2.2ZM309.9,295.5h2.2V298.6h-2.2ZM312.1,295.0h2.2V298.4h-2.2ZM314.3,294.0h3.3V297.2h-3.3ZM317.6,292.1h2.2V297.2h-2.2ZM319.8,289.5h2.2V294.9h-2.2ZM322.0,288.7h2.2V293.9h-2.2ZM324.2,284.2h2.2V290.9h-2.2ZM326.4,282.2h2.2V290.7h-2.2ZM328.6,283.1h2.2V290.0h-2.2ZM330.8,280.0h3.3V287.5h-3.3ZM334.1,278.8h3.3V286.6h-3.3ZM337.4,276.3h1.1V283.9h-1.1ZM338.5,275.2h1.1V285.5h-1.1ZM339.6,272.7h2.2V282.4h-2.2ZM341.8,275.6h1.1V282.8h-1.1ZM342.9,271.7h2.2V278.1h-2.2ZM345.1,270.3h2.2V284.4h-2.2ZM347.3,274.0h2.2V282.6h-2.2ZM349.5,270.5h2.2V277.6h-2.2ZM351.7,274.5h1.1V281.9h-1.1ZM352.8,275.4h2.2V283.8h-2.2ZM355.0,280.8h2.2V289.1h-2.2ZM357.2,284.5h1.1V292.7h-1.1ZM358.3,282.8h1.1V291.6h-1.1ZM359.4,287.8h2.2V292.7h-2.2ZM361.6,290.8h2.2V296.5h-2.2ZM363.8,292.9h2.2V297.4h-2.2ZM366.0,295.0h3.3V298.7h-3.3ZM369.3,295.3h2.2V299.1h-2.2ZM371.5,297.2h2.2V300.3h-2.2ZM373.7,297.5h2.2V300.6h-2.2Z" fill="#000" stroke="#000" stroke-width="0.5" shape-rendering="crispEdges"/>
<path d="M308.1,297.6V295.8M339.2,276.2V271.6M346.5,271.3V267.3M352.0,275.5V270.5M354.4,276.4V273.1" fill="none" stroke="#000" stroke-width="1.2"/>
<path d="M300.0,298.8L303.3,298.4L304.4,298.2L307.7,297.9L309.9,297.6L312.1,297.3L314.3,297.1L317.6,294.7L319.8,292.7L322.0,291.2L324.2,289.7L326.4,288.2L328.6,287.0L330.8,285.9L334.1,283.4L337.4,280.1L338.5,279.5L339.6,278.9L341.8,277.9L342.9,277.3L345.1,276.5L347.3,275.6L349.5,275.8L351.7,277.9L352.8,279.2L355.0,282.9L357.2,286.2L358.3,287.6L359.4,288.9L361.6,291.6L363.8,293.8L366.0,296.0L369.3,297.1L371.5,297.8L373.7,298.4" fill="none" stroke="#000" stroke-width="3.0" stroke-linejoin="round"/>
<path d="M290.0,333.2h2.2V336.8h-2.2ZM292.2,332.8h3.3V335.7h-3.3ZM295.5,331.9h1.1V335.7h-1.1ZM296.6,332.8h2.2V336.6h-2.2ZM298.8,331.9h2.2V335.6h-2.2ZM301.0,330.0h2.2V333.9h-2.2ZM303.2,328.0h2.2V332.1h-2.2ZM305.4,324.4h3.3V329.9h-3.3ZM308.7,316.0h2.2V328.2h-2.2ZM310.9,321.8h1.1V330.6h-1.1ZM312.0,319.2h2.2V324.5h-2.2ZM314.2,318.8h3.3V329.2h-3.3ZM317.5,317.0h2.2V326.0h-2.2ZM319.7,317.6h3.3V325.6h-3.3ZM323.0,319.1h1.1V327.2h-1.1ZM324.1,322.6h2.2V328.4h-2.2ZM326.3,319.1h2.2V327.3h-2.2ZM328.5,320.5h2.2V330.3h-2.2ZM330.7,320.6h2.2V330.3h-2.2ZM332.9,315.6h3.3V325.2h-3.3ZM336.2,316.0h3.3V325.2h-3.3ZM339.5,311.4h1.1V320.3h-1.1ZM340.6,313.3h1.1V321.4h-1.1ZM341.7,310.4h2.2V319.6h-2.2ZM343.9,305.0h2.2V314.5h-2.2ZM346.1,308.5h2.2V322.5h-2.2ZM348.3,309.1h2.2V320.1h-2.2ZM350.5,305.0h1.1V315.6h-1.1ZM351.6,316.0h3.3V326.5h-3.3ZM354.9,320.0h2.2V327.4h-2.2ZM357.1,326.8h2.2V331.0h-2.2ZM359.3,329.8h3.3V333.6h-3.3ZM362.6,329.8h2.2V333.3h-2.2ZM364.8,330.6h2.2V334.1h-2.2ZM367.0,332.8h3.3V336.0h-3.3ZM370.3,333.2h2.2V336.3h-2.2ZM372.5,334.3h3.3V336.8h-3.3Z" fill="#000" stroke="#000" stroke-width="0.5" shape-rendering="crispEdges"/>
<path d="M311.0,322.8V317.3M331.5,321.6V318.1M375.3,335.3V332.9" fill="none" stroke="#000" stroke-width="1.2"/>
<path d="M290.0,335.0L292.2,334.6L295.5,334.1L296.6,333.9L298.8,333.6L301.0,333.2L303.2,332.2L305.4,329.6L308.7,326.5L310.9,325.0L312.0,324.2L314.2,322.6L317.5,321.3L319.7,321.3L323.0,322.4L324.1,322.7L326.3,323.2L328.5,323.6L330.7,323.9L332.9,322.8L336.2,320.5L339.5,316.6L340.6,315.5L341.7,314.5L343.9,312.5L346.1,311.9L348.3,312.8L350.5,314.2L351.6,314.9L354.9,323.7L357.1,327.1L359.3,329.8L362.6,331.7L364.8,332.9L367.0,333.7L370.3,334.8L372.5,335.5" fill="none" stroke="#000" stroke-width="3.0" stroke-linejoin="round"/>
<path d="M290,331.5h15v5.5h-15z M361,332.5h12v4.5h-12z M327,328h4v6h-4z" fill="#000"/>
<path d="M306,326V337 M309,326V337 M312,324V337" stroke="#000" stroke-width="1.2"/>
<text x="371.87" y="57.89" font-size="11.27" stroke="#000" stroke-width="0.22" fill="#000" textLength="13.96" lengthAdjust="spacingAndGlyphs">28</text>
<text x="375.24" y="94.58" font-size="11.83" stroke="#000" stroke-width="0.22" fill="#000" textLength="6.98" lengthAdjust="spacingAndGlyphs">8</text>
<text x="371.87" y="132.38" font-size="11.69" stroke="#000" stroke-width="0.22" fill="#000" textLength="14.03" lengthAdjust="spacingAndGlyphs">26</text>
<text x="372.07" y="170.39" font-size="11.27" stroke="#000" stroke-width="0.22" fill="#000" textLength="13.82" lengthAdjust="spacingAndGlyphs">13</text>
<text x="371.87" y="207.88" font-size="11.69" stroke="#000" stroke-width="0.22" fill="#000" textLength="14.03" lengthAdjust="spacingAndGlyphs">29</text>
<text x="375.23" y="247.09" font-size="11.27" stroke="#000" stroke-width="0.22" fill="#000" textLength="7.06" lengthAdjust="spacingAndGlyphs">9</text>
<text x="372.00" y="284.09" font-size="11.13" stroke="#000" stroke-width="0.22" fill="#000" textLength="13.96" lengthAdjust="spacingAndGlyphs">32</text>
<text x="371.87" y="322.50" font-size="11.86" stroke="#000" stroke-width="0.22" fill="#000" textLength="14.10" lengthAdjust="spacingAndGlyphs">22</text>
<text x="399.41" y="59.86" font-size="13.61" stroke="#000" stroke-width="0.22" fill="#000" textLength="32.58" lengthAdjust="spacingAndGlyphs">Mock</text>
<text x="399.41" y="135.36" font-size="13.61" stroke="#000" stroke-width="0.22" fill="#000" textLength="32.58" lengthAdjust="spacingAndGlyphs">Mock</text>
<text x="399.41" y="211.86" font-size="13.61" stroke="#000" stroke-width="0.22" fill="#000" textLength="32.58" lengthAdjust="spacingAndGlyphs">Mock</text>
<text x="399.41" y="289.86" font-size="13.61" stroke="#000" stroke-width="0.22" fill="#000" textLength="32.58" lengthAdjust="spacingAndGlyphs">Mock</text>
<text x="400.23" y="97.36" font-size="13.61" stroke="#000" stroke-width="0.22" fill="#000" textLength="44.81" lengthAdjust="spacingAndGlyphs">TB40/E</text>
<text x="400.23" y="172.36" font-size="13.61" stroke="#000" stroke-width="0.22" fill="#000" textLength="44.81" lengthAdjust="spacingAndGlyphs">TB40/E</text>
<text x="400.23" y="249.86" font-size="13.61" stroke="#000" stroke-width="0.22" fill="#000" textLength="44.81" lengthAdjust="spacingAndGlyphs">TB40/E</text>
<text x="400.23" y="326.11" font-size="13.61" stroke="#000" stroke-width="0.22" fill="#000" textLength="44.81" lengthAdjust="spacingAndGlyphs">TB40/E</text>
<path d="M446.2,51.0 Q450.0,51.0 450.0,55.5 L450.0,70.1 Q450.0,74.3 454.0,74.3 Q450.0,74.3 450.0,78.5 L450.0,92.8 Q450.0,97.3 446.2,97.3" fill="none" stroke="#000" stroke-width="1.5"/>
<text x="454.82" y="79.86" font-size="13.57" stroke="#000" stroke-width="0.22" fill="#000" textLength="50.75" lengthAdjust="spacingAndGlyphs">+a-IL-15</text>
<path d="M445.8,122.4 Q450.0,122.4 450.0,126.9 L450.0,141.5 Q450.0,145.7 454.0,145.7 Q450.0,145.7 450.0,149.9 L450.0,164.8 Q450.0,169.3 445.8,169.3" fill="none" stroke="#000" stroke-width="1.5"/>
<text x="454.82" y="144.37" font-size="12.68" stroke="#000" stroke-width="0.22" fill="#000" textLength="50.89" lengthAdjust="spacingAndGlyphs">+a-IL-12</text>
<text x="454.82" y="160.37" font-size="13.21" stroke="#000" stroke-width="0.22" fill="#000" textLength="50.75" lengthAdjust="spacingAndGlyphs">+a-IL-15</text>
<path d="M445.8,199.4 Q450.0,199.4 450.0,203.9 L450.0,218.8 Q450.0,223.0 454.0,223.0 Q450.0,223.0 450.0,227.2 L450.0,241.8 Q450.0,246.3 445.8,246.3" fill="none" stroke="#000" stroke-width="1.5"/>
<text x="454.82" y="221.12" font-size="13.21" stroke="#000" stroke-width="0.22" fill="#000" textLength="50.75" lengthAdjust="spacingAndGlyphs">+a-IL-15</text>
<text x="454.82" y="236.86" font-size="13.57" stroke="#000" stroke-width="0.22" fill="#000" textLength="60.84" lengthAdjust="spacingAndGlyphs">+a-IFNAR</text>
<path d="M445.8,281.4 Q450.0,281.4 450.0,285.9 L450.0,300.6 Q450.0,304.8 454.0,304.8 Q450.0,304.8 450.0,309.0 L450.0,323.9 Q450.0,328.4 445.8,328.4" fill="none" stroke="#000" stroke-width="1.5"/>
<text x="455.57" y="294.37" font-size="12.68" stroke="#000" stroke-width="0.22" fill="#000" textLength="51.41" lengthAdjust="spacingAndGlyphs">+a-IL-12</text>
<text x="454.82" y="310.37" font-size="13.21" stroke="#000" stroke-width="0.22" fill="#000" textLength="50.75" lengthAdjust="spacingAndGlyphs">+a-IL-15</text>
<text x="456.34" y="326.12" font-size="12.50" stroke="#000" stroke-width="0.22" fill="#000" textLength="59.30" lengthAdjust="spacingAndGlyphs">+a-IFNAR</text>
<line x1="273.75" y1="349.5" x2="392.5" y2="349.5" stroke="#000" stroke-width="1.5"/>
<path d="M391.5,346.7 L397.5,349.5 L391.5,352.3 Z" fill="#000"/>
<text x="315.90" y="364.87" font-size="13.38" stroke="#000" stroke-width="0.22" fill="#000" textLength="47.22" lengthAdjust="spacingAndGlyphs">NKG2D</text>
<line x1="4" y1="393.3" x2="4" y2="679.3" stroke="#000" stroke-width="2"/>
<line x1="3" y1="447.5" x2="127.3" y2="447.5" stroke="#000" stroke-width="1.3"/>
<line x1="3" y1="505.2" x2="127.3" y2="505.2" stroke="#000" stroke-width="1.3"/>
<line x1="3" y1="564.0" x2="127.3" y2="564.0" stroke="#000" stroke-width="1.3"/>
<line x1="3" y1="622.0" x2="127.3" y2="622.0" stroke="#000" stroke-width="1.3"/>
<line x1="3" y1="678.5" x2="127.3" y2="678.5" stroke="#000" stroke-width="1.3"/>
<line x1="37.1" y1="447.5" x2="37.1" y2="678.5" stroke="#4a4a4a" stroke-width="1.15"/>
<line x1="54.1" y1="447.5" x2="54.1" y2="678.5" stroke="#4a4a4a" stroke-width="1.15"/>
<line x1="71.1" y1="447.5" x2="71.1" y2="678.5" stroke="#4a4a4a" stroke-width="1.15"/>
<line x1="87.6" y1="447.5" x2="87.6" y2="678.5" stroke="#4a4a4a" stroke-width="1.15"/>
<line x1="104.6" y1="447.5" x2="104.6" y2="678.5" stroke="#4a4a4a" stroke-width="1.15"/>
<line x1="121.35" y1="447.5" x2="121.35" y2="678.5" stroke="#4a4a4a" stroke-width="1.15"/>
<line x1="20.3" y1="447.3" x2="20.3" y2="451" stroke="#4a4a4a" stroke-width="1.1"/>
<line x1="20.3" y1="476" x2="20.3" y2="508.7" stroke="#4a4a4a" stroke-width="1.1"/>
<line x1="20.3" y1="534.3" x2="20.3" y2="573.3" stroke="#4a4a4a" stroke-width="1.1"/>
<line x1="20.3" y1="603" x2="20.3" y2="678.5" stroke="#4a4a4a" stroke-width="1.1"/>
<path d="M4.5,440.1h1.1V444.2h-1.1ZM5.6,437.9h2.2V444.0h-2.2ZM7.8,432.8h1.1V438.5h-1.1ZM8.9,427.5h1.1V435.3h-1.1ZM10.0,426.7h1.1V436.0h-1.1ZM11.1,425.1h2.2V431.4h-2.2ZM13.3,422.7h2.2V429.7h-2.2ZM15.5,422.4h3.3V429.7h-3.3ZM18.8,416.0h2.2V427.6h-2.2ZM21.0,419.4h2.2V430.6h-2.2ZM23.2,419.5h2.2V431.3h-2.2ZM25.4,423.8h2.2V430.6h-2.2ZM27.6,430.1h2.2V437.6h-2.2ZM29.8,435.2h2.2V441.1h-2.2ZM32.0,438.7h1.1V443.3h-1.1ZM33.1,440.5h1.1V443.9h-1.1ZM34.2,444.8h2.2V447.2h-2.2ZM36.4,444.4h2.2V447.1h-2.2ZM38.6,444.5h3.3V447.2h-3.3ZM41.9,445.0h1.1V447.7h-1.1Z" fill="#000" stroke="#000" stroke-width="0.5" shape-rendering="crispEdges"/>
<path d="M10.9,427.7V421.3M42.4,446.0V444.6" fill="none" stroke="#000" stroke-width="1.2"/>
<path d="M4.5,442.5L5.6,441.1L7.8,437.8L8.9,434.4L10.0,431.0L11.1,429.2L13.3,426.7L15.5,425.8L18.8,420.9L21.0,420.6L23.2,423.1L25.4,426.5L27.6,430.2L29.8,434.6L32.0,440.0L33.1,442.3L34.2,444.1L36.4,445.7L38.6,446.0L41.9,446.4" fill="none" stroke="#000" stroke-width="3.0" stroke-linejoin="round"/>
<path d="M20.0,503.5h1.1V505.8h-1.1ZM21.1,503.3h2.2V505.6h-2.2ZM23.3,502.9h2.2V505.5h-2.2ZM25.5,503.0h2.2V505.4h-2.2ZM27.7,502.5h2.2V504.9h-2.2ZM29.9,502.3h2.2V505.2h-2.2ZM32.1,502.7h3.3V505.2h-3.3ZM35.4,502.3h1.1V505.2h-1.1ZM36.5,502.0h2.2V504.8h-2.2ZM38.7,502.1h2.2V505.0h-2.2ZM40.9,502.1h3.3V505.0h-3.3ZM44.2,499.0h2.2V504.5h-2.2ZM46.4,501.8h2.2V504.7h-2.2ZM48.6,501.3h2.2V504.5h-2.2ZM50.8,501.2h2.2V504.5h-2.2ZM53.0,501.0h2.2V503.9h-2.2ZM55.2,500.4h2.2V503.8h-2.2ZM57.4,501.5h1.1V504.7h-1.1ZM58.5,500.5h3.3V503.9h-3.3ZM61.8,495.0h3.3V501.7h-3.3ZM65.1,496.4h3.3V500.2h-3.3ZM68.4,494.3h3.3V499.1h-3.3ZM71.7,490.9h2.2V495.1h-2.2ZM73.9,486.7h2.2V495.6h-2.2ZM76.1,487.2h3.3V493.0h-3.3ZM79.4,480.7h3.3V491.4h-3.3ZM82.7,479.7h2.2V488.2h-2.2ZM84.9,476.0h1.1V490.9h-1.1ZM86.0,479.4h2.2V489.5h-2.2ZM88.2,481.9h2.2V489.7h-2.2ZM90.4,479.9h1.1V487.4h-1.1ZM91.5,476.0h2.2V487.6h-2.2ZM93.7,482.8h1.1V489.8h-1.1ZM94.8,483.2h2.2V491.7h-2.2ZM97.0,481.7h1.1V491.6h-1.1ZM98.1,484.7h2.2V490.5h-2.2ZM100.3,485.0h1.1V494.3h-1.1ZM101.4,487.4h3.3V495.6h-3.3ZM104.7,493.0h2.2V498.9h-2.2ZM106.9,496.9h3.3V501.4h-3.3ZM110.2,500.3h2.2V504.3h-2.2ZM112.4,501.8h2.2V504.4h-2.2ZM114.6,502.0h1.1V504.7h-1.1ZM115.7,502.5h1.1V505.2h-1.1ZM116.8,502.5h2.2V505.0h-2.2ZM119.0,502.8h3.3V505.2h-3.3ZM122.3,503.0h1.1V505.4h-1.1ZM123.4,503.6h2.2V506.0h-2.2Z" fill="#000" stroke="#000" stroke-width="0.5" shape-rendering="crispEdges"/>
<path d="M20.0,504.5L21.1,504.4L23.3,504.3L25.5,504.2L27.7,504.1L29.9,503.9L32.1,503.8L35.4,503.6L36.5,503.6L38.7,503.5L40.9,503.4L44.2,503.2L46.4,503.1L48.6,503.1L50.8,502.9L53.0,502.7L55.2,502.5L57.4,502.3L58.5,502.1L61.8,500.6L65.1,498.4L68.4,496.4L71.7,494.1L73.9,492.4L76.1,490.7L79.4,488.4L82.7,487.1L84.9,486.4L86.0,486.1L88.2,485.7L90.4,485.3L91.5,485.2L93.7,485.5L94.8,485.9L97.0,486.8L98.1,487.4L100.3,489.0L101.4,490.1L104.7,494.8L106.9,497.3L110.2,500.7L112.4,502.6L114.6,503.5L115.7,503.9L116.8,504.1L119.0,504.2L122.3,504.4L123.4,504.5" fill="none" stroke="#000" stroke-width="3.0" stroke-linejoin="round"/>
<path d="M32.5,560.6h3.3V563.3h-3.3ZM35.8,560.6h3.3V564.0h-3.3ZM39.1,560.4h1.1V563.3h-1.1ZM40.2,560.2h2.2V563.0h-2.2ZM42.4,557.0h3.3V563.3h-3.3ZM45.7,558.7h2.2V562.9h-2.2ZM47.9,556.7h3.3V561.1h-3.3ZM51.2,554.2h1.1V558.1h-1.1ZM52.3,553.2h2.2V557.3h-2.2ZM54.5,551.9h2.2V558.3h-2.2ZM56.7,549.0h2.2V556.0h-2.2ZM58.9,548.6h2.2V556.8h-2.2ZM61.1,542.7h3.3V551.0h-3.3ZM64.4,538.0h3.3V547.0h-3.3ZM67.7,537.1h2.2V544.8h-2.2ZM69.9,538.4h1.1V549.4h-1.1ZM71.0,533.4h2.2V543.3h-2.2ZM73.2,540.6h3.3V550.3h-3.3ZM76.5,536.9h2.2V547.2h-2.2ZM78.7,537.1h3.3V544.3h-3.3ZM82.0,538.7h3.3V546.3h-3.3ZM85.3,539.7h1.1V549.7h-1.1ZM86.4,543.6h1.1V551.4h-1.1ZM87.5,544.3h3.3V551.7h-3.3ZM90.8,546.6h1.1V552.2h-1.1ZM91.9,550.0h2.2V557.5h-2.2ZM94.1,551.3h2.2V559.4h-2.2ZM96.3,552.8h2.2V558.3h-2.2ZM98.5,556.0h2.2V559.3h-2.2ZM100.7,558.6h1.1V562.8h-1.1ZM101.8,560.2h3.3V563.7h-3.3ZM105.1,560.3h2.2V562.8h-2.2ZM107.3,560.9h3.3V563.5h-3.3ZM110.6,561.5h2.2V564.0h-2.2ZM112.8,561.6h1.1V564.5h-1.1ZM113.9,561.4h2.2V563.9h-2.2ZM116.1,561.8h1.1V564.2h-1.1ZM117.2,561.5h3.3V564.2h-3.3Z" fill="#000" stroke="#000" stroke-width="0.5" shape-rendering="crispEdges"/>
<path d="M79.7,538.1V532.1M85.4,540.7V537.5M92.5,551.0V546.1" fill="none" stroke="#000" stroke-width="1.2"/>
<path d="M32.5,562.0L35.8,561.7L39.1,561.5L40.2,561.4L42.4,561.2L45.7,560.6L47.9,559.5L51.2,557.7L52.3,556.9L54.5,555.4L56.7,553.6L58.9,551.9L61.1,549.8L64.4,546.1L67.7,543.3L69.9,542.5L71.0,542.2L73.2,542.0L76.5,542.0L78.7,542.1L82.0,542.8L85.3,545.7L86.4,546.9L87.5,547.8L90.8,550.6L91.9,551.5L94.1,553.3L96.3,555.3L98.5,557.5L100.7,559.7L101.8,560.8L105.1,561.6L107.3,562.0L110.6,562.5L112.8,562.6L113.9,562.7L116.1,562.8L117.2,562.9" fill="none" stroke="#000" stroke-width="3.0" stroke-linejoin="round"/>
<path d="M30.0,619.5h1.1V622.1h-1.1ZM31.1,619.8h1.1V622.5h-1.1ZM32.2,619.5h2.2V622.1h-2.2ZM34.4,619.7h1.1V621.9h-1.1ZM35.5,619.2h2.2V621.9h-2.2ZM37.7,619.2h3.3V621.6h-3.3ZM41.0,618.6h3.3V621.0h-3.3ZM44.3,618.8h3.3V621.7h-3.3ZM47.6,617.5h2.2V621.0h-2.2ZM49.8,617.8h2.2V621.4h-2.2ZM52.0,618.4h1.1V621.7h-1.1ZM53.1,617.9h1.1V621.2h-1.1ZM54.2,617.0h1.1V620.0h-1.1ZM55.3,616.9h2.2V620.2h-2.2ZM57.5,617.3h2.2V621.3h-2.2ZM59.7,616.1h1.1V620.7h-1.1ZM60.8,614.8h2.2V620.6h-2.2ZM63.0,612.8h1.1V617.8h-1.1ZM64.1,609.9h3.3V614.6h-3.3ZM67.4,608.0h2.2V613.3h-2.2ZM69.6,605.9h2.2V612.2h-2.2ZM71.8,602.2h2.2V607.4h-2.2ZM74.0,598.9h2.2V605.3h-2.2ZM76.2,601.6h2.2V608.7h-2.2ZM78.4,598.6h2.2V608.0h-2.2ZM80.6,595.0h3.3V605.3h-3.3ZM83.9,601.5h3.3V609.6h-3.3ZM87.2,601.2h1.1V611.3h-1.1ZM88.3,596.8h2.2V605.5h-2.2ZM90.5,592.5h2.2V604.1h-2.2ZM92.7,596.8h2.2V607.8h-2.2ZM94.9,600.1h2.2V609.3h-2.2ZM97.1,605.3h2.2V611.2h-2.2ZM99.3,608.5h3.3V615.8h-3.3ZM102.6,611.5h3.3V616.6h-3.3ZM105.9,614.4h3.3V619.2h-3.3ZM109.2,616.2h2.2V619.5h-2.2ZM111.4,617.8h1.1V620.9h-1.1ZM112.5,617.9h3.3V621.1h-3.3ZM115.8,618.6h2.2V622.2h-2.2ZM118.0,619.3h2.2V621.8h-2.2ZM120.2,619.2h2.2V621.8h-2.2ZM122.4,619.6h2.2V622.0h-2.2Z" fill="#000" stroke="#000" stroke-width="0.5" shape-rendering="crispEdges"/>
<path d="M55.8,617.9V616.1M70.1,606.9V602.8M81.5,596.0V591.0M88.6,597.8V592.9M94.9,601.1V597.5M105.7,612.5V607.5" fill="none" stroke="#000" stroke-width="1.2"/>
<path d="M30.0,621.0L31.1,620.9L32.2,620.8L34.4,620.7L35.5,620.6L37.7,620.4L41.0,620.2L44.3,619.9L47.6,619.7L49.8,619.5L52.0,619.3L53.1,619.2L54.2,619.1L55.3,619.0L57.5,618.8L59.7,618.5L60.8,617.7L63.0,615.5L64.1,614.4L67.4,611.1L69.6,608.9L71.8,607.1L74.0,605.3L76.2,604.1L78.4,603.4L80.6,602.6L83.9,602.7L87.2,604.4L88.3,604.1L90.5,603.0L92.7,602.3L94.9,605.1L97.1,608.0L99.3,610.3L102.6,613.6L105.9,615.8L109.2,618.0L111.4,618.8L112.5,619.0L115.8,619.7L118.0,620.1L120.2,620.5L122.4,621.0" fill="none" stroke="#000" stroke-width="3.0" stroke-linejoin="round"/>
<path d="M4.5,671.4h3.3V675.8h-3.3ZM7.8,665.3h3.3V671.7h-3.3ZM11.1,661.4h2.2V668.1h-2.2ZM13.3,657.2h3.3V668.2h-3.3ZM16.6,656.9h2.2V666.8h-2.2ZM18.8,644.5h2.2V654.1h-2.2ZM21.0,644.0h2.2V655.7h-2.2ZM23.2,642.8h3.3V652.9h-3.3ZM26.5,644.1h2.2V655.1h-2.2ZM28.7,642.0h1.1V653.9h-1.1ZM29.8,650.9h3.3V658.8h-3.3ZM33.1,657.0h2.2V666.9h-2.2ZM35.3,656.5h3.3V665.2h-3.3ZM38.6,663.6h3.3V670.0h-3.3ZM41.9,664.6h2.2V671.2h-2.2ZM44.1,666.7h3.3V672.7h-3.3ZM47.4,666.8h2.2V674.0h-2.2ZM49.6,668.5h1.1V673.4h-1.1ZM50.7,670.4h2.2V674.6h-2.2ZM52.9,670.6h2.2V675.4h-2.2ZM55.1,669.9h3.3V674.3h-3.3ZM58.4,671.1h3.3V675.4h-3.3ZM61.7,673.0h3.3V677.2h-3.3ZM65.0,673.7h2.2V677.4h-2.2ZM67.2,675.0h2.2V678.2h-2.2ZM69.4,675.6h3.3V678.1h-3.3ZM72.7,675.3h3.3V677.9h-3.3ZM76.0,675.2h1.1V677.9h-1.1ZM77.1,675.8h2.2V678.5h-2.2ZM79.3,676.0h2.2V678.3h-2.2ZM81.5,676.5h1.1V678.7h-1.1Z" fill="#000" stroke="#000" stroke-width="0.5" shape-rendering="crispEdges"/>
<path d="M29.2,643.0V639.7M35.6,657.5V653.0M52.8,671.4V667.6" fill="none" stroke="#000" stroke-width="1.2"/>
<path d="M4.5,677.5L7.8,669.7L11.1,666.4L13.3,664.0L16.6,659.9L18.8,654.7L21.0,647.8L23.2,648.3L26.5,649.3L28.7,649.0L29.8,651.4L33.1,658.1L35.3,660.3L38.6,663.6L41.9,666.9L44.1,668.3L47.4,670.0L49.6,671.0L50.7,671.4L52.9,672.0L55.1,672.5L58.4,673.4L61.7,674.3L65.0,675.4L67.2,676.1L69.4,676.4L72.7,676.7L76.0,677.0L77.1,677.0L79.3,677.2L81.5,677.4" fill="none" stroke="#000" stroke-width="3.0" stroke-linejoin="round"/>
<text x="9.76" y="410.69" font-size="10.99" stroke="#000" stroke-width="0.22" fill="#000" textLength="7.57" lengthAdjust="spacingAndGlyphs">3</text>
<text x="5.20" y="468.30" font-size="11.86" stroke="#000" stroke-width="0.22" fill="#000" textLength="20.15" lengthAdjust="spacingAndGlyphs">271</text>
<text x="5.82" y="525.69" font-size="10.56" stroke="#000" stroke-width="0.22" fill="#000" textLength="19.57" lengthAdjust="spacingAndGlyphs">134</text>
<text x="5.19" y="594.59" font-size="11.27" stroke="#000" stroke-width="0.22" fill="#000" textLength="20.47" lengthAdjust="spacingAndGlyphs">251</text>
<text x="10.15" y="641.30" font-size="11.59" stroke="#000" stroke-width="0.22" fill="#000" textLength="7.21" lengthAdjust="spacingAndGlyphs">7</text>
<text x="128.71" y="427.47" font-size="12.93" stroke="#000" stroke-width="0.22" fill="#000" textLength="32.58" lengthAdjust="spacingAndGlyphs">Mock</text>
<text x="128.68" y="476.00" font-size="14.20" stroke="#000" stroke-width="0.22" fill="#000" textLength="18.64" lengthAdjust="spacingAndGlyphs">NT</text>
<text x="129.18" y="534.68" font-size="12.39" stroke="#000" stroke-width="0.22" fill="#000" textLength="43.56" lengthAdjust="spacingAndGlyphs">a-IL-12</text>
<text x="129.19" y="592.47" font-size="12.86" stroke="#000" stroke-width="0.22" fill="#000" textLength="52.98" lengthAdjust="spacingAndGlyphs">a-IFNAR</text>
<text x="129.18" y="650.87" font-size="12.68" stroke="#000" stroke-width="0.22" fill="#000" textLength="43.56" lengthAdjust="spacingAndGlyphs">a-IL-12</text>
<text x="129.19" y="666.87" font-size="12.86" stroke="#000" stroke-width="0.22" fill="#000" textLength="52.98" lengthAdjust="spacingAndGlyphs">a-IFNAR</text>
<path d="M182.9,461.9 Q188.1,461.9 188.1,474.9 L188.1,554.4 Q188.1,565.4 193.0,565.4 Q188.1,565.4 188.1,576.4 L188.1,656.4 Q188.1,669.4 182.9,669.4" fill="none" stroke="#000" stroke-width="1.35"/>
<text x="195.73" y="573.15" font-size="14.97" stroke="#000" stroke-width="0.22" fill="#000" textLength="45.83" lengthAdjust="spacingAndGlyphs">TB40/E</text>
<line x1="5" y1="685.5" x2="117.5" y2="685.5" stroke="#000" stroke-width="1.5"/>
<path d="M116.5,682.7 L122.5,685.5 L116.5,688.3 Z" fill="#000"/>
<text x="44.30" y="703.68" font-size="12.39" stroke="#000" stroke-width="0.22" fill="#000" textLength="35.86" lengthAdjust="spacingAndGlyphs">CD69</text>
<line x1="267.7" y1="396.7" x2="267.7" y2="676" stroke="#000" stroke-width="2"/>
<line x1="267" y1="446.7" x2="388" y2="446.7" stroke="#000" stroke-width="1.1"/>
<line x1="267" y1="492.5" x2="388" y2="492.5" stroke="#000" stroke-width="1.1"/>
<line x1="267" y1="538.2" x2="388" y2="538.2" stroke="#000" stroke-width="1.1"/>
<line x1="267" y1="583.9" x2="388" y2="583.9" stroke="#000" stroke-width="1.1"/>
<line x1="267" y1="630.0" x2="388" y2="630.0" stroke="#000" stroke-width="1.1"/>
<line x1="267" y1="675.0" x2="388" y2="675.0" stroke="#000" stroke-width="1.1"/>
<line x1="306.5" y1="446.7" x2="306.5" y2="675.0" stroke="#222" stroke-width="1.0"/>
<line x1="326.2" y1="446.7" x2="326.2" y2="675.0" stroke="#222" stroke-width="1.0"/>
<line x1="345.9" y1="446.7" x2="345.9" y2="675.0" stroke="#222" stroke-width="1.0"/>
<line x1="365.6" y1="446.7" x2="365.6" y2="675.0" stroke="#222" stroke-width="1.0"/>
<line x1="385.2" y1="446.7" x2="385.2" y2="675.0" stroke="#222" stroke-width="1.0"/>
<line x1="287.3" y1="473.3" x2="287.3" y2="675.0" stroke="#222" stroke-width="1.0"/>
<path d="M267.5,434.8L267.8,433.0L268.3,433.0L268.5,430.5L268.9,430.5L269.1,433.7L269.6,433.7L269.8,437.9L270.2,437.9L270.4,435.0L270.9,435.0L271.1,436.6L271.5,436.6L271.7,433.7L272.2,433.7L272.4,435.9L272.8,435.9L273.0,435.6L273.5,435.6L273.7,434.1L274.1,434.1L274.3,435.1L274.8,435.1L275.0,434.1L275.4,434.1L275.6,439.9L276.1,439.9L276.3,437.4L276.7,437.4L276.9,437.4L277.4,437.4L277.6,438.8L278.0,438.8L278.2,437.8L278.7,437.8L278.9,434.3L279.3,434.3L279.5,438.5L280.0,438.5L280.2,435.3L280.6,435.3L280.8,438.2L281.3,438.2L281.5,432.0L281.9,432.0L282.1,432.0L282.6,432.0L282.8,429.0L283.2,429.0L283.4,434.6L283.9,434.6L284.1,432.4L284.5,432.4L284.7,433.3L285.2,433.3L285.4,429.0L285.8,429.0L286.0,432.9L286.5,432.9L286.7,430.9L287.1,430.9L287.3,431.1L287.8,431.1L288.0,424.2L288.4,424.2L288.6,430.5L289.1,430.5L289.3,431.3L289.7,431.3L289.9,429.1L290.4,429.1L290.6,426.3L291.0,426.3L291.2,427.5L291.7,427.5L291.9,424.3L292.3,424.3L292.5,423.4L293.0,423.4L293.2,429.0L293.6,429.0L293.8,426.7L294.3,426.7L294.5,428.4L294.9,428.4L295.1,422.8L295.6,422.8L295.8,424.0L296.2,424.0L296.4,427.2L296.9,427.2L297.1,421.3L297.5,421.3L297.7,424.2L298.2,424.2L298.4,423.7L298.8,423.7L299.0,422.1L299.5,422.1L299.7,426.6L300.1,426.6L300.3,426.0L300.8,426.0L301.0,424.0L301.4,424.0L301.6,427.2L302.1,427.2L302.3,430.0L302.7,430.0L302.9,423.6L303.4,423.6L303.6,432.3L304.0,432.3L304.2,427.3L304.7,427.3L304.9,429.8L305.3,429.8L305.5,429.0L306.0,429.0L306.2,429.0L306.6,429.0L306.8,434.6L307.3,434.6L307.5,432.3L307.9,432.3L308.1,437.4L308.6,437.4L308.8,440.9L309.2,440.9L309.4,441.0L309.9,441.0L310.1,438.1L310.5,438.1L310.7,439.2L311.2,439.2L311.4,443.5L311.8,443.5L312.0,442.6L312.5,442.6L312.7,445.5L313.1,445.5L313.3,443.4L313.8,443.4L314.0,444.4L314.4,444.4L314.6,444.0L315.1,444.0L315.3,443.1L315.7,443.1L315.9,444.8L316.4,444.8L316.6,445.1L317.0,445.1L317.2,444.9L317.7,444.9L317.9,446.7L318.3,446.7L318.5,446.4L319.0,446.4L319.2,445.1L319.6,445.1" fill="none" stroke="#000" stroke-width="1.6" stroke-linejoin="round"/>
<path d="M287.0,491.2L287.3,492.4L287.8,492.4L288.0,491.5L288.4,491.5L288.6,491.4L289.1,491.4L289.3,490.7L289.7,490.7L289.9,492.0L290.4,492.0L290.6,490.7L291.0,490.7L291.2,492.5L291.7,492.5L291.9,490.7L292.3,490.7L292.5,492.5L293.0,492.5L293.2,490.2L293.6,490.2L293.8,491.2L294.3,491.2L294.5,491.6L294.9,491.6L295.1,492.5L295.6,492.5L295.8,492.4L296.2,492.4L296.4,490.8L296.9,490.8L297.1,491.8L297.5,491.8L297.7,492.5L298.2,492.5L298.4,490.4L298.8,490.4L299.0,492.3L299.5,492.3L299.7,492.3L300.1,492.3L300.3,492.5L300.8,492.5L301.0,490.5L301.4,490.5L301.6,492.1L302.1,492.1L302.3,491.2L302.7,491.2L302.9,492.5L303.4,492.5L303.6,492.1L304.0,492.1L304.2,489.8L304.7,489.8L304.9,492.5L305.3,492.5L305.5,492.3L306.0,492.3L306.2,490.6L306.6,490.6L306.8,492.5L307.3,492.5L307.5,490.0L307.9,490.0L308.1,492.4L308.6,492.4L308.8,491.2L309.2,491.2L309.4,489.1L309.9,489.1L310.1,491.6L310.5,491.6L310.7,489.8L311.2,489.8L311.4,488.8L311.8,488.8L312.0,489.0L312.5,489.0L312.7,488.5L313.1,488.5L313.3,489.7L313.8,489.7L314.0,489.0L314.4,489.0L314.6,491.3L315.1,491.3L315.3,489.1L315.7,489.1L315.9,487.8L316.4,487.8L316.6,487.2L317.0,487.2L317.2,490.0L317.7,490.0L317.9,487.4L318.3,487.4L318.5,490.8L319.0,490.8L319.2,489.8L319.6,489.8L319.8,488.6L320.3,488.6L320.5,488.2L320.9,488.2L321.1,486.4L321.6,486.4L321.8,489.1L322.2,489.1L322.4,485.6L322.9,485.6L323.1,484.1L323.5,484.1L323.7,486.2L324.2,486.2L324.4,487.5L324.8,487.5L325.0,487.8L325.5,487.8L325.7,483.6L326.1,483.6L326.3,482.2L326.8,482.2L327.0,483.0L327.4,483.0L327.6,479.1L328.1,479.1L328.3,481.8L328.7,481.8L328.9,477.5L329.4,477.5L329.6,477.0L330.0,477.0L330.2,480.0L330.7,480.0L330.9,480.1L331.3,480.1L331.5,476.3L332.0,476.3L332.2,472.2L332.6,472.2L332.8,476.5L333.3,476.5L333.5,472.2L333.9,472.2L334.1,470.5L334.6,470.5L334.8,468.0L335.2,468.0L335.4,470.2L335.9,470.2L336.1,464.7L336.5,464.7L336.7,462.1L337.2,462.1L337.4,462.6L337.8,462.6L338.0,461.1L338.5,461.1L338.7,458.7L339.1,458.7L339.3,457.2L339.8,457.2L340.0,460.9L340.4,460.9L340.6,455.9L341.1,455.9L341.3,460.0L341.7,460.0L341.9,457.2L342.4,457.2L342.6,458.0L343.0,458.0L343.2,455.7L343.7,455.7L343.9,449.8L344.3,449.8L344.5,455.3L345.0,455.3L345.2,447.9L345.6,447.9L345.8,450.3L346.3,450.3L346.5,453.1L346.9,453.1L347.1,449.8L347.6,449.8L347.8,451.8L348.2,451.8L348.4,447.5L348.9,447.5L349.1,448.8L349.5,448.8L349.7,444.7L350.2,444.7L350.4,443.2L350.8,443.2L351.0,445.9L351.5,445.9L351.7,444.9L352.1,444.9L352.3,444.2L352.8,444.2L353.0,448.1L353.4,448.1L353.6,445.1L354.1,445.1L354.3,450.1L354.7,450.1L354.9,447.6L355.4,447.6L355.6,447.9L356.0,447.9L356.2,453.5L356.7,453.5L356.9,451.0L357.3,451.0L357.5,450.9L358.0,450.9L358.2,454.3L358.6,454.3L358.8,455.5L359.3,455.5L359.5,453.8L359.9,453.8L360.1,457.6L360.6,457.6L360.8,460.3L361.2,460.3L361.4,465.1L361.9,465.1L362.1,465.7L362.5,465.7L362.7,467.1L363.2,467.1L363.4,468.2L363.8,468.2L364.0,473.7L364.5,473.7L364.7,471.8L365.1,471.8L365.3,472.1L365.8,472.1L366.0,473.8L366.4,473.8L366.6,480.2L367.1,480.2L367.3,477.8L367.7,477.8L367.9,479.5L368.4,479.5L368.6,479.6L369.0,479.6L369.2,480.7L369.7,480.7L369.9,487.5L370.3,487.5L370.5,482.6L371.0,482.6L371.2,484.9L371.6,484.9L371.8,485.7L372.3,485.7L372.5,486.8L372.9,486.8L373.1,490.3L373.6,490.3L373.8,487.7L374.2,487.7L374.4,491.7L374.9,491.7L375.1,490.1L375.5,490.1L375.7,490.2L376.2,490.2L376.4,490.4L376.8,490.4L377.0,491.8L377.5,491.8L377.7,489.4L378.1,489.4L378.3,490.5L378.8,490.5L379.0,489.7L379.4,489.7L379.6,491.5L380.1,491.5L380.3,490.0L380.7,490.0L380.9,492.2L381.4,492.2L381.6,491.3L382.0,491.3L382.2,492.5L382.7,492.5L382.9,492.5L383.3,492.5L383.5,491.9L384.0,491.9L384.2,490.0L384.6,490.0" fill="none" stroke="#000" stroke-width="1.6" stroke-linejoin="round"/>
<path d="M268.2,535.9L268.6,534.2L269.0,534.2L269.2,534.5L269.7,534.5L269.9,534.4L270.3,534.4L270.5,533.5L271.0,533.5L271.2,533.2L271.6,533.2L271.8,534.9L272.3,534.9L272.5,535.6L272.9,535.6L273.1,536.8L273.6,536.8L273.8,535.5L274.2,535.5L274.4,537.8L274.9,537.8L275.1,534.4L275.5,534.4L275.7,536.1L276.2,536.1L276.4,533.3L276.8,533.3L277.0,533.7L277.5,533.7L277.7,532.9L278.1,532.9L278.3,536.3L278.8,536.3L279.0,534.7L279.4,534.7L279.6,533.8L280.1,533.8L280.3,535.0L280.7,535.0L280.9,535.2L281.4,535.2L281.6,531.9L282.0,531.9L282.2,534.1L282.7,534.1L282.9,530.5L283.3,530.5L283.5,532.5L284.0,532.5L284.2,532.8L284.6,532.8L284.8,529.6L285.3,529.6L285.5,531.0L285.9,531.0L286.1,531.1L286.6,531.1L286.8,526.2L287.2,526.2L287.4,530.5L287.9,530.5L288.1,526.0L288.5,526.0L288.7,526.2L289.2,526.2L289.4,525.3L289.8,525.3L290.0,525.0L290.5,525.0L290.7,530.0L291.1,530.0L291.3,525.1L291.8,525.1L292.0,528.2L292.4,528.2L292.6,521.6L293.1,521.6L293.3,522.0L293.7,522.0L293.9,519.4L294.4,519.4L294.6,522.8L295.0,522.8L295.2,526.2L295.7,526.2L295.9,522.1L296.3,522.1L296.5,523.2L297.0,523.2L297.2,517.7L297.6,517.7L297.8,515.9L298.3,515.9L298.5,516.4L298.9,516.4L299.1,521.6L299.6,521.6L299.8,518.6L300.2,518.6L300.4,519.6L300.9,519.6L301.1,517.4L301.5,517.4L301.7,512.2L302.2,512.2L302.4,510.7L302.8,510.7L303.0,513.4L303.5,513.4L303.7,509.2L304.1,509.2L304.3,511.8L304.8,511.8L305.0,512.0L305.4,512.0L305.6,509.3L306.1,509.3L306.3,515.1L306.7,515.1L306.9,507.4L307.4,507.4L307.6,514.8L308.0,514.8L308.2,507.6L308.7,507.6L308.9,515.6L309.3,515.6L309.5,511.1L310.0,511.1L310.2,509.1L310.6,509.1L310.8,513.3L311.3,513.3L311.5,514.2L311.9,514.2L312.1,511.9L312.6,511.9L312.8,513.0L313.2,513.0L313.4,515.1L313.9,515.1L314.1,512.2L314.5,512.2L314.7,513.0L315.2,513.0L315.4,516.6L315.8,516.6L316.0,515.0L316.5,515.0L316.7,518.6L317.1,518.6L317.3,515.8L317.8,515.8L318.0,518.6L318.4,518.6L318.6,517.5L319.1,517.5L319.3,515.3L319.7,515.3L319.9,516.6L320.4,516.6L320.6,518.5L321.0,518.5L321.2,518.0L321.7,518.0L321.9,520.1L322.3,520.1L322.5,520.1L323.0,520.1L323.2,520.5L323.6,520.5L323.8,516.9L324.3,516.9L324.5,522.3L324.9,522.3L325.1,523.0L325.6,523.0L325.8,518.5L326.2,518.5L326.4,523.3L326.9,523.3L327.1,519.7L327.5,519.7L327.7,517.9L328.2,517.9L328.4,516.0L328.8,516.0L329.0,521.2L329.5,521.2L329.7,521.1L330.1,521.1L330.3,520.7L330.8,520.7L331.0,518.6L331.4,518.6L331.6,515.8L332.1,515.8L332.3,514.9L332.7,514.9L332.9,520.0L333.4,520.0L333.6,520.1L334.0,520.1L334.2,522.6L334.7,522.6L334.9,521.7L335.3,521.7L335.5,519.8L336.0,519.8L336.2,523.8L336.6,523.8L336.8,516.0L337.3,516.0L337.5,524.1L337.9,524.1L338.1,520.8L338.6,520.8L338.8,520.8L339.2,520.8L339.4,522.3L339.9,522.3L340.1,520.5L340.5,520.5L340.7,522.0L341.2,522.0L341.4,525.5L341.8,525.5L342.0,524.3L342.5,524.3L342.7,526.5L343.1,526.5L343.3,523.3L343.8,523.3L344.0,521.0L344.4,521.0L344.6,523.9L345.1,523.9L345.3,526.4L345.7,526.4L345.9,523.1L346.4,523.1L346.6,526.0L347.0,526.0L347.2,526.8L347.7,526.8L347.9,524.7L348.3,524.7L348.5,522.0L349.0,522.0L349.2,528.4L349.6,528.4L349.8,525.5L350.3,525.5L350.5,531.3L350.9,531.3L351.1,524.3L351.6,524.3L351.8,529.9L352.2,529.9L352.4,529.4L352.9,529.4L353.1,531.9L353.5,531.9L353.7,532.0L354.2,532.0L354.4,532.6L354.8,532.6L355.0,532.0L355.5,532.0L355.7,532.0L356.1,532.0L356.3,532.8L356.8,532.8L357.0,533.2L357.4,533.2L357.6,532.2L358.1,532.2L358.3,532.1L358.7,532.1L358.9,531.5L359.4,531.5L359.6,533.1L360.0,533.1L360.2,534.1L360.7,534.1L360.9,536.2L361.3,536.2L361.5,533.8L362.0,533.8L362.2,536.7L362.6,536.7L362.8,536.4L363.3,536.4L363.5,535.0L363.9,535.0L364.1,536.4L364.6,536.4L364.8,537.7L365.2,537.7L365.4,537.5L365.9,537.5L366.1,537.2L366.5,537.2L366.7,535.9L367.2,535.9L367.4,536.3L367.8,536.3L368.0,536.5L368.5,536.5L368.7,536.4L369.1,536.4L369.3,537.1L369.8,537.1L370.0,538.2L370.4,538.2L370.6,537.9L371.1,537.9L371.3,536.6L371.7,536.6L371.9,537.7L372.4,537.7L372.6,537.5L373.0,537.5L373.2,536.1L373.7,536.1L373.9,536.5L374.3,536.5L374.5,536.6L375.0,536.6L375.2,536.1L375.6,536.1L375.8,537.9L376.3,537.9L376.5,537.7L376.9,537.7L377.1,537.0L377.6,537.0L377.8,538.2L378.2,538.2L378.4,537.1L378.9,537.1L379.1,536.5L379.5,536.5L379.7,537.2L380.2,537.2L380.4,537.2L380.8,537.2L381.0,536.5L381.5,536.5L381.7,537.0L382.1,537.0L382.3,538.0L382.8,538.0L383.0,537.8L383.4,537.8L383.6,536.3L384.1,536.3" fill="none" stroke="#000" stroke-width="1.6" stroke-linejoin="round"/>
<path d="M268.2,577.9L268.6,582.1L269.0,582.1L269.2,578.6L269.7,578.6L269.9,582.2L270.3,582.2L270.5,582.0L271.0,582.0L271.2,578.9L271.6,578.9L271.8,580.1L272.3,580.1L272.5,579.5L272.9,579.5L273.1,579.6L273.6,579.6L273.8,581.3L274.2,581.3L274.4,581.5L274.9,581.5L275.1,578.9L275.5,578.9L275.7,580.2L276.2,580.2L276.4,580.8L276.8,580.8L277.0,580.4L277.5,580.4L277.7,578.1L278.1,578.1L278.3,579.2L278.8,579.2L279.0,579.6L279.4,579.6L279.6,581.5L280.1,581.5L280.3,580.9L280.7,580.9L280.9,580.1L281.4,580.1L281.6,578.1L282.0,578.1L282.2,581.2L282.7,581.2L282.9,577.6L283.3,577.6L283.5,578.0L284.0,578.0L284.2,577.0L284.6,577.0L284.8,578.4L285.3,578.4L285.5,578.9L285.9,578.9L286.1,577.6L286.6,577.6L286.8,577.7L287.2,577.7L287.4,576.1L287.9,576.1L288.1,575.0L288.5,575.0L288.7,571.1L289.2,571.1L289.4,576.1L289.8,576.1L290.0,576.0L290.5,576.0L290.7,573.5L291.1,573.5L291.3,575.2L291.8,575.2L292.0,573.9L292.4,573.9L292.6,573.4L293.1,573.4L293.3,571.9L293.7,571.9L293.9,572.0L294.4,572.0L294.6,570.5L295.0,570.5L295.2,565.3L295.7,565.3L295.9,570.9L296.3,570.9L296.5,566.4L297.0,566.4L297.2,568.2L297.6,568.2L297.8,569.7L298.3,569.7L298.5,565.6L298.9,565.6L299.1,563.1L299.6,563.1L299.8,564.8L300.2,564.8L300.4,566.9L300.9,566.9L301.1,566.0L301.5,566.0L301.7,566.6L302.2,566.6L302.4,565.2L302.8,565.2L303.0,563.8L303.5,563.8L303.7,561.0L304.1,561.0L304.3,558.3L304.8,558.3L305.0,564.5L305.4,564.5L305.6,556.8L306.1,556.8L306.3,564.3L306.7,564.3L306.9,561.6L307.4,561.6L307.6,558.1L308.0,558.1L308.2,557.4L308.7,557.4L308.9,561.9L309.3,561.9L309.5,556.3L310.0,556.3L310.2,559.2L310.6,559.2L310.8,556.4L311.3,556.4L311.5,556.5L311.9,556.5L312.1,557.6L312.6,557.6L312.8,561.2L313.2,561.2L313.4,556.2L313.9,556.2L314.1,563.4L314.5,563.4L314.7,561.8L315.2,561.8L315.4,559.0L315.8,559.0L316.0,563.0L316.5,563.0L316.7,557.8L317.1,557.8L317.3,559.7L317.8,559.7L318.0,562.1L318.4,562.1L318.6,565.3L319.1,565.3L319.3,564.0L319.7,564.0L319.9,558.5L320.4,558.5L320.6,566.1L321.0,566.1L321.2,559.3L321.7,559.3L321.9,559.4L322.3,559.4L322.5,562.6L323.0,562.6L323.2,558.2L323.6,558.2L323.8,561.0L324.3,561.0L324.5,559.2L324.9,559.2L325.1,561.1L325.6,561.1L325.8,560.1L326.2,560.1L326.4,560.6L326.9,560.6L327.1,559.8L327.5,559.8L327.7,560.8L328.2,560.8L328.4,562.1L328.8,562.1L329.0,559.9L329.5,559.9L329.7,560.7L330.1,560.7L330.3,558.5L330.8,558.5L331.0,559.2L331.4,559.2L331.6,556.3L332.1,556.3L332.3,559.3L332.7,559.3L332.9,559.5L333.4,559.5L333.6,557.1L334.0,557.1L334.2,558.8L334.7,558.8L334.9,561.3L335.3,561.3L335.5,561.2L336.0,561.2L336.2,562.8L336.6,562.8L336.8,560.1L337.3,560.1L337.5,565.3L337.9,565.3L338.1,560.1L338.6,560.1L338.8,567.0L339.2,567.0L339.4,562.6L339.9,562.6L340.1,562.6L340.5,562.6L340.7,563.7L341.2,563.7L341.4,569.3L341.8,569.3L342.0,567.8L342.5,567.8L342.7,570.4L343.1,570.4L343.3,571.3L343.8,571.3L344.0,567.4L344.4,567.4L344.6,570.8L345.1,570.8L345.3,565.0L345.7,565.0L345.9,572.0L346.4,572.0L346.6,567.9L347.0,567.9L347.2,569.1L347.7,569.1L347.9,572.4L348.3,572.4L348.5,571.6L349.0,571.6L349.2,572.5L349.6,572.5L349.8,571.2L350.3,571.2L350.5,572.3L350.9,572.3L351.1,576.9L351.6,576.9L351.8,570.8L352.2,570.8L352.4,571.4L352.9,571.4L353.1,576.3L353.5,576.3L353.7,573.2L354.2,573.2L354.4,574.9L354.8,574.9L355.0,575.4L355.5,575.4L355.7,574.5L356.1,574.5L356.3,577.1L356.8,577.1L357.0,580.7L357.4,580.7L357.6,580.4L358.1,580.4L358.3,576.7L358.7,576.7L358.9,581.7L359.4,581.7L359.6,581.7L360.0,581.7L360.2,581.8L360.7,581.8L360.9,579.4L361.3,579.4L361.5,580.4L362.0,580.4L362.2,580.1L362.6,580.1L362.8,582.3L363.3,582.3L363.5,582.4L363.9,582.4L364.1,580.9L364.6,580.9L364.8,583.4L365.2,583.4L365.4,582.7L365.9,582.7L366.1,582.8L366.5,582.8L366.7,581.9L367.2,581.9L367.4,583.4L367.8,583.4L368.0,582.5L368.5,582.5L368.7,583.4L369.1,583.4L369.3,583.9L369.8,583.9L370.0,581.4L370.4,581.4L370.6,581.4L371.1,581.4L371.3,582.1L371.7,582.1L371.9,583.9L372.4,583.9L372.6,582.5L373.0,582.5L373.2,582.7L373.7,582.7L373.9,583.2L374.3,583.2L374.5,583.2L375.0,583.2L375.2,582.9L375.6,582.9L375.8,583.9L376.3,583.9L376.5,583.0L376.9,583.0L377.1,583.9L377.6,583.9L377.8,582.1L378.2,582.1L378.4,583.9L378.9,583.9L379.1,583.1L379.5,583.1L379.7,583.2L380.2,583.2L380.4,582.2L380.8,582.2L381.0,583.9L381.5,583.9L381.7,582.2L382.1,582.2L382.3,583.9L382.8,583.9L383.0,583.3L383.4,583.3L383.6,581.9L384.1,581.9" fill="none" stroke="#000" stroke-width="1.6" stroke-linejoin="round"/>
<path d="M268.2,624.7L268.6,626.0L269.0,626.0L269.2,627.9L269.7,627.9L269.9,626.3L270.3,626.3L270.5,625.5L271.0,625.5L271.2,627.4L271.6,627.4L271.8,626.0L272.3,626.0L272.5,627.2L272.9,627.2L273.1,625.9L273.6,625.9L273.8,628.1L274.2,628.1L274.4,625.4L274.9,625.4L275.1,626.5L275.5,626.5L275.7,629.0L276.2,629.0L276.4,625.9L276.8,625.9L277.0,626.9L277.5,626.9L277.7,625.7L278.1,625.7L278.3,626.2L278.8,626.2L279.0,626.6L279.4,626.6L279.6,628.1L280.1,628.1L280.3,627.8L280.7,627.8L280.9,624.5L281.4,624.5L281.6,626.4L282.0,626.4L282.2,624.5L282.7,624.5L282.9,622.3L283.3,622.3L283.5,622.8L284.0,622.8L284.2,622.7L284.6,622.7L284.8,622.8L285.3,622.8L285.5,626.0L285.9,626.0L286.1,624.6L286.6,624.6L286.8,619.9L287.2,619.9L287.4,622.5L287.9,622.5L288.1,620.2L288.5,620.2L288.7,619.5L289.2,619.5L289.4,623.3L289.8,623.3L290.0,617.1L290.5,617.1L290.7,621.6L291.1,621.6L291.3,622.4L291.8,622.4L292.0,615.0L292.4,615.0L292.6,616.9L293.1,616.9L293.3,620.5L293.7,620.5L293.9,613.9L294.4,613.9L294.6,616.1L295.0,616.1L295.2,614.6L295.7,614.6L295.9,619.6L296.3,619.6L296.5,618.5L297.0,618.5L297.2,617.7L297.6,617.7L297.8,613.2L298.3,613.2L298.5,611.4L298.9,611.4L299.1,617.6L299.6,617.6L299.8,611.5L300.2,611.5L300.4,610.9L300.9,610.9L301.1,609.4L301.5,609.4L301.7,615.2L302.2,615.2L302.4,611.2L302.8,611.2L303.0,608.2L303.5,608.2L303.7,606.1L304.1,606.1L304.3,609.0L304.8,609.0L305.0,604.7L305.4,604.7L305.6,603.6L306.1,603.6L306.3,606.8L306.7,606.8L306.9,606.7L307.4,606.7L307.6,605.8L308.0,605.8L308.2,608.5L308.7,608.5L308.9,601.2L309.3,601.2L309.5,601.5L310.0,601.5L310.2,601.8L310.6,601.8L310.8,606.2L311.3,606.2L311.5,606.6L311.9,606.6L312.1,603.0L312.6,603.0L312.8,606.0L313.2,606.0L313.4,601.7L313.9,601.7L314.1,602.4L314.5,602.4L314.7,603.8L315.2,603.8L315.4,602.8L315.8,602.8L316.0,604.2L316.5,604.2L316.7,604.6L317.1,604.6L317.3,605.8L317.8,605.8L318.0,609.8L318.4,609.8L318.6,609.1L319.1,609.1L319.3,609.8L319.7,609.8L319.9,604.5L320.4,604.5L320.6,610.1L321.0,610.1L321.2,606.8L321.7,606.8L321.9,611.4L322.3,611.4L322.5,608.8L323.0,608.8L323.2,609.1L323.6,609.1L323.8,608.1L324.3,608.1L324.5,603.2L324.9,603.2L325.1,605.4L325.6,605.4L325.8,604.2L326.2,604.2L326.4,604.8L326.9,604.8L327.1,608.7L327.5,608.7L327.7,605.5L328.2,605.5L328.4,603.1L328.8,603.1L329.0,608.5L329.5,608.5L329.7,604.2L330.1,604.2L330.3,602.6L330.8,602.6L331.0,604.8L331.4,604.8L331.6,604.6L332.1,604.6L332.3,606.1L332.7,606.1L332.9,607.1L333.4,607.1L333.6,608.1L334.0,608.1L334.2,606.4L334.7,606.4L334.9,605.4L335.3,605.4L335.5,603.9L336.0,603.9L336.2,607.0L336.6,607.0L336.8,607.5L337.3,607.5L337.5,609.6L337.9,609.6L338.1,608.1L338.6,608.1L338.8,610.5L339.2,610.5L339.4,604.0L339.9,604.0L340.1,607.0L340.5,607.0L340.7,607.6L341.2,607.6L341.4,611.1L341.8,611.1L342.0,613.3L342.5,613.3L342.7,612.2L343.1,612.2L343.3,610.0L343.8,610.0L344.0,613.5L344.4,613.5L344.6,611.0L345.1,611.0L345.3,614.6L345.7,614.6L345.9,611.2L346.4,611.2L346.6,618.5L347.0,618.5L347.2,620.5L347.7,620.5L347.9,614.8L348.3,614.8L348.5,619.3L349.0,619.3L349.2,614.9L349.6,614.9L349.8,615.9L350.3,615.9L350.5,620.3L350.9,620.3L351.1,616.9L351.6,616.9L351.8,620.0L352.2,620.0L352.4,620.8L352.9,620.8L353.1,623.5L353.5,623.5L353.7,624.7L354.2,624.7L354.4,622.4L354.8,622.4L355.0,620.3L355.5,620.3L355.7,622.5L356.1,622.5L356.3,622.0L356.8,622.0L357.0,624.4L357.4,624.4L357.6,623.9L358.1,623.9L358.3,624.4L358.7,624.4L358.9,625.7L359.4,625.7L359.6,625.7L360.0,625.7L360.2,624.9L360.7,624.9L360.9,628.5L361.3,628.5L361.5,626.9L362.0,626.9L362.2,626.3L362.6,626.3L362.8,627.3L363.3,627.3L363.5,628.7L363.9,628.7L364.1,627.2L364.6,627.2L364.8,626.2L365.2,626.2L365.4,628.3L365.9,628.3L366.1,629.0L366.5,629.0L366.7,628.4L367.2,628.4L367.4,627.8L367.8,627.8L368.0,627.1L368.5,627.1L368.7,626.6L369.1,626.6L369.3,628.6L369.8,628.6L370.0,627.0L370.4,627.0L370.6,629.8L371.1,629.8L371.3,627.9L371.7,627.9L371.9,628.4L372.4,628.4L372.6,627.3L373.0,627.3L373.2,628.7L373.7,628.7L373.9,628.5L374.3,628.5L374.5,629.5L375.0,629.5L375.2,630.0L375.6,630.0L375.8,627.6L376.3,627.6L376.5,630.0L376.9,630.0L377.1,628.0L377.6,628.0L377.8,629.0L378.2,629.0L378.4,630.0L378.9,630.0L379.1,628.7L379.5,628.7L379.7,628.6L380.2,628.6L380.4,629.0L380.8,629.0L381.0,628.8L381.5,628.8L381.7,628.9L382.1,628.9L382.3,629.2L382.8,629.2L383.0,629.7L383.4,629.7L383.6,629.8L384.1,629.8" fill="none" stroke="#000" stroke-width="1.6" stroke-linejoin="round"/>
<path d="M269.5,673.6L269.8,674.7L270.3,674.7L270.5,674.8L270.9,674.8L271.1,673.8L271.6,673.8L271.8,673.5L272.2,673.5L272.4,675.0L272.9,675.0L273.1,674.7L273.5,674.7L273.7,673.4L274.2,673.4L274.4,674.5L274.8,674.5L275.0,674.8L275.5,674.8L275.7,674.8L276.1,674.8L276.3,675.0L276.8,675.0L277.0,675.0L277.4,675.0L277.6,674.7L278.1,674.7L278.3,675.0L278.7,675.0L278.9,674.1L279.4,674.1L279.6,673.3L280.0,673.3L280.2,675.0L280.7,675.0L280.9,673.3L281.3,673.3L281.5,672.9L282.0,672.9L282.2,672.8L282.6,672.8L282.8,674.0L283.3,674.0L283.5,675.0L283.9,675.0L284.1,673.4L284.6,673.4L284.8,675.0L285.2,675.0L285.4,675.0L285.9,675.0L286.1,673.0L286.5,673.0L286.7,673.7L287.2,673.7L287.4,673.6L287.8,673.6L288.0,673.4L288.5,673.4L288.7,673.1L289.1,673.1L289.3,670.2L289.8,670.2L290.0,672.4L290.4,672.4L290.6,669.6L291.1,669.6L291.3,670.7L291.7,670.7L291.9,670.4L292.4,670.4L292.6,667.8L293.0,667.8L293.2,670.1L293.7,670.1L293.9,669.3L294.3,669.3L294.5,667.0L295.0,667.0L295.2,669.6L295.6,669.6L295.8,665.5L296.3,665.5L296.5,670.0L296.9,670.0L297.1,664.2L297.6,664.2L297.8,668.6L298.2,668.6L298.4,666.4L298.9,666.4L299.1,663.2L299.5,663.2L299.7,663.6L300.2,663.6L300.4,668.4L300.8,668.4L301.0,665.8L301.5,665.8L301.7,664.8L302.1,664.8L302.3,665.3L302.8,665.3L303.0,660.4L303.4,660.4L303.6,663.1L304.1,663.1L304.3,665.7L304.7,665.7L304.9,660.3L305.4,660.3L305.6,661.1L306.0,661.1L306.2,665.3L306.7,665.3L306.9,664.2L307.3,664.2L307.5,658.7L308.0,658.7L308.2,663.5L308.6,663.5L308.8,655.3L309.3,655.3L309.5,659.4L309.9,659.4L310.1,661.4L310.6,661.4L310.8,659.9L311.2,659.9L311.4,658.6L311.9,658.6L312.1,655.5L312.5,655.5L312.7,661.0L313.2,661.0L313.4,657.5L313.8,657.5L314.0,660.1L314.5,660.1L314.7,660.0L315.1,660.0L315.3,657.9L315.8,657.9L316.0,655.9L316.4,655.9L316.6,657.3L317.1,657.3L317.3,652.9L317.7,652.9L317.9,654.2L318.4,654.2L318.6,659.2L319.0,659.2L319.2,652.1L319.7,652.1L319.9,650.6L320.3,650.6L320.5,657.4L321.0,657.4L321.2,653.7L321.6,653.7L321.8,651.4L322.3,651.4L322.5,656.4L322.9,656.4L323.1,654.6L323.6,654.6L323.8,651.5L324.2,651.5L324.4,651.4L324.9,651.4L325.1,649.5L325.5,649.5L325.7,650.5L326.2,650.5L326.4,651.6L326.8,651.6L327.0,651.1L327.5,651.1L327.7,647.5L328.1,647.5L328.3,651.8L328.8,651.8L329.0,644.2L329.4,644.2L329.6,651.2L330.1,651.2L330.3,648.7L330.7,648.7L330.9,643.2L331.4,643.2L331.6,647.0L332.0,647.0L332.2,648.6L332.7,648.6L332.9,645.5L333.3,645.5L333.5,642.8L334.0,642.8L334.2,645.9L334.6,645.9L334.8,643.6L335.3,643.6L335.5,644.6L335.9,644.6L336.1,637.9L336.6,637.9L336.8,641.0L337.2,641.0L337.4,644.5L337.9,644.5L338.1,641.4L338.5,641.4L338.7,645.5L339.2,645.5L339.4,641.9L339.8,641.9L340.0,638.7L340.5,638.7L340.7,643.5L341.1,643.5L341.3,638.4L341.8,638.4L342.0,640.2L342.4,640.2L342.6,645.8L343.1,645.8L343.3,645.0L343.7,645.0L343.9,641.3L344.4,641.3L344.6,641.2L345.0,641.2L345.2,645.9L345.7,645.9L345.9,642.9L346.3,642.9L346.5,644.5L347.0,644.5L347.2,647.8L347.6,647.8L347.8,648.2L348.3,648.2L348.5,649.6L348.9,649.6L349.1,652.5L349.6,652.5L349.8,650.4L350.2,650.4L350.4,653.9L350.9,653.9L351.1,651.3L351.5,651.3L351.7,657.0L352.2,657.0L352.4,658.5L352.8,658.5L353.0,659.9L353.5,659.9L353.7,655.3L354.1,655.3L354.3,662.8L354.8,662.8L355.0,662.1L355.4,662.1L355.6,663.9L356.1,663.9L356.3,661.7L356.7,661.7L356.9,664.1L357.4,664.1L357.6,660.5L358.0,660.5L358.2,668.3L358.7,668.3L358.9,662.6L359.3,662.6L359.5,666.7L360.0,666.7L360.2,665.9L360.6,665.9L360.8,671.5L361.3,671.5L361.5,670.0L361.9,670.0L362.1,669.8L362.6,669.8L362.8,670.9L363.2,670.9L363.4,671.9L363.9,671.9L364.1,669.3L364.5,669.3L364.7,670.7L365.2,670.7L365.4,671.3L365.8,671.3L366.0,672.7L366.5,672.7L366.7,671.0L367.1,671.0L367.3,673.3L367.8,673.3L368.0,673.0L368.4,673.0L368.6,674.1L369.1,674.1L369.3,673.5L369.7,673.5L369.9,672.5L370.4,672.5L370.6,674.0L371.0,674.0L371.2,672.6L371.7,672.6L371.9,673.6L372.3,673.6L372.5,672.7L373.0,672.7L373.2,675.0L373.6,675.0L373.8,674.4L374.3,674.4L374.5,673.7L374.9,673.7L375.1,673.4L375.6,673.4L375.8,673.7L376.2,673.7L376.4,673.6L376.9,673.6L377.1,675.0L377.5,675.0L377.7,674.5L378.2,674.5L378.4,673.8L378.8,673.8L379.0,673.7L379.5,673.7L379.7,675.0L380.1,675.0L380.3,673.8L380.8,673.8L381.0,675.0L381.4,675.0L381.6,675.0L382.1,675.0" fill="none" stroke="#000" stroke-width="1.6" stroke-linejoin="round"/>
<text x="269.73" y="464.70" font-size="11.59" stroke="#000" stroke-width="0.22" fill="#000" textLength="19.61" lengthAdjust="spacingAndGlyphs">111</text>
<text x="270.26" y="510.69" font-size="10.99" stroke="#000" stroke-width="0.22" fill="#000" textLength="13.97" lengthAdjust="spacingAndGlyphs">18</text>
<text x="269.64" y="557.38" font-size="11.69" stroke="#000" stroke-width="0.22" fill="#000" textLength="14.61" lengthAdjust="spacingAndGlyphs">20</text>
<text x="269.64" y="604.08" font-size="11.83" stroke="#000" stroke-width="0.22" fill="#000" textLength="14.61" lengthAdjust="spacingAndGlyphs">20</text>
<text x="269.78" y="650.18" font-size="12.11" stroke="#000" stroke-width="0.22" fill="#000" textLength="14.47" lengthAdjust="spacingAndGlyphs">38</text>
<text x="394.48" y="460.86" font-size="13.88" stroke="#000" stroke-width="0.22" fill="#000" textLength="33.51" lengthAdjust="spacingAndGlyphs">Mock</text>
<text x="395.33" y="512.05" font-size="14.69" stroke="#000" stroke-width="0.22" fill="#000" textLength="45.01" lengthAdjust="spacingAndGlyphs">TB40/E</text>
<path d="M448.0,451.9 Q453.5,451.9 453.5,458.3 L453.5,481.6 Q453.5,486.6 458.6,486.6 Q453.5,486.6 453.5,491.6 L453.5,516.6 Q453.5,523.0 448.0,523.0" fill="none" stroke="#000" stroke-width="1.4"/>
<text x="461.44" y="490.20" font-size="13.04" stroke="#000" stroke-width="0.22" fill="#000" textLength="17.67" lengthAdjust="spacingAndGlyphs">NT</text>
<text x="394.99" y="556.86" font-size="13.57" stroke="#000" stroke-width="0.22" fill="#000" textLength="52.98" lengthAdjust="spacingAndGlyphs">a-IFNAR</text>
<text x="394.95" y="601.70" font-size="13.33" stroke="#000" stroke-width="0.22" fill="#000" textLength="43.02" lengthAdjust="spacingAndGlyphs">a-IFN&#947;</text>
<text x="394.99" y="641.57" font-size="13.43" stroke="#000" stroke-width="0.22" fill="#000" textLength="52.98" lengthAdjust="spacingAndGlyphs">a-IFNAR</text>
<text x="394.95" y="658.77" font-size="13.00" stroke="#000" stroke-width="0.22" fill="#000" textLength="43.02" lengthAdjust="spacingAndGlyphs">a-IFN&#947;</text>
<path d="M446.5,542.3 Q453.2,542.3 453.2,554.3 L453.2,602.8 Q453.2,610.8 460.2,610.8 Q453.2,610.8 453.2,618.8 L453.2,668.2 Q453.2,680.2 446.5,680.2" fill="none" stroke="#000" stroke-width="1.4"/>
<text x="461.83" y="618.16" font-size="14.01" stroke="#000" stroke-width="0.22" fill="#000" textLength="45.21" lengthAdjust="spacingAndGlyphs">TB40/E</text>
<line x1="271.2" y1="684.3" x2="384.2" y2="684.3" stroke="#000" stroke-width="1.8"/>
<path d="M383.2,681.5 L389.2,684.3 L383.2,687.0999999999999 Z" fill="#000"/>
<text x="311.41" y="701.07" font-size="13.38" stroke="#000" stroke-width="0.22" fill="#000" textLength="46.91" lengthAdjust="spacingAndGlyphs">NKG2D</text>
<rect x="80.5" y="742.4" width="285.8" height="163.2" fill="none" stroke="#8c8c8c" stroke-width="1"/>
<line x1="77.5" y1="905.6" x2="80.5" y2="905.6" stroke="#8c8c8c" stroke-width="1"/>
<text x="66.37" y="910.79" font-size="10.85" stroke="#000" stroke-width="0.22" fill="#000" textLength="7.38" lengthAdjust="spacingAndGlyphs">0</text>
<line x1="77.5" y1="878.4" x2="80.5" y2="878.4" stroke="#8c8c8c" stroke-width="1"/>
<text x="50.55" y="883.70" font-size="10.42" stroke="#000" stroke-width="0.22" fill="#000" textLength="24.49" lengthAdjust="spacingAndGlyphs">2000</text>
<line x1="77.5" y1="851.2" x2="80.5" y2="851.2" stroke="#8c8c8c" stroke-width="1"/>
<text x="50.83" y="856.50" font-size="10.42" stroke="#000" stroke-width="0.22" fill="#000" textLength="24.20" lengthAdjust="spacingAndGlyphs">4000</text>
<line x1="77.5" y1="824.0" x2="80.5" y2="824.0" stroke="#8c8c8c" stroke-width="1"/>
<text x="50.55" y="829.30" font-size="10.42" stroke="#000" stroke-width="0.22" fill="#000" textLength="24.49" lengthAdjust="spacingAndGlyphs">6000</text>
<line x1="77.5" y1="796.8" x2="80.5" y2="796.8" stroke="#8c8c8c" stroke-width="1"/>
<text x="50.61" y="802.10" font-size="10.42" stroke="#000" stroke-width="0.22" fill="#000" textLength="24.43" lengthAdjust="spacingAndGlyphs">8000</text>
<line x1="77.5" y1="769.5999999999999" x2="80.5" y2="769.5999999999999" stroke="#8c8c8c" stroke-width="1"/>
<text x="44.68" y="774.90" font-size="10.42" stroke="#000" stroke-width="0.22" fill="#000" textLength="30.37" lengthAdjust="spacingAndGlyphs">10000</text>
<line x1="77.5" y1="742.4" x2="80.5" y2="742.4" stroke="#8c8c8c" stroke-width="1"/>
<text x="44.68" y="747.70" font-size="10.42" stroke="#000" stroke-width="0.22" fill="#000" textLength="30.37" lengthAdjust="spacingAndGlyphs">12000</text>
<rect x="88.2" y="903.6" width="10.5" height="2.0" fill="#cdcdcd" stroke="#222" stroke-width="0.9"/>
<rect x="98.7" y="770.4" width="10.5" height="135.2" fill="#858585" stroke="#222" stroke-width="0.9"/>
<line x1="103.95" y1="770.3616" x2="103.95" y2="763.2896" stroke="#222" stroke-width="1"/>
<line x1="101.45" y1="763.2896" x2="106.45" y2="763.2896" stroke="#222" stroke-width="1.2"/>
<rect x="123.8" y="904.8" width="10.5" height="0.8" fill="#cdcdcd" stroke="#222" stroke-width="0.9"/>
<rect x="134.3" y="897.2" width="10.5" height="8.4" fill="#858585" stroke="#222" stroke-width="0.9"/>
<rect x="158.8" y="902.6" width="10.5" height="3.0" fill="#cdcdcd" stroke="#222" stroke-width="0.9"/>
<rect x="169.3" y="814.6" width="10.5" height="91.0" fill="#858585" stroke="#222" stroke-width="0.9"/>
<line x1="174.55" y1="814.5888" x2="174.55" y2="811.5968" stroke="#222" stroke-width="1"/>
<line x1="172.05" y1="811.5968" x2="177.05" y2="811.5968" stroke="#222" stroke-width="1.2"/>
<rect x="195.5" y="904.5" width="10.5" height="1.1" fill="#cdcdcd" stroke="#222" stroke-width="0.9"/>
<rect x="206.0" y="904.5" width="10.5" height="1.1" fill="#858585" stroke="#222" stroke-width="0.9"/>
<rect x="231.2" y="902.9" width="10.5" height="2.7" fill="#cdcdcd" stroke="#222" stroke-width="0.9"/>
<rect x="241.7" y="857.6" width="10.5" height="48.0" fill="#858585" stroke="#222" stroke-width="0.9"/>
<line x1="246.95" y1="857.6192" x2="246.95" y2="852.7232" stroke="#222" stroke-width="1"/>
<line x1="244.45" y1="852.7232" x2="249.45" y2="852.7232" stroke="#222" stroke-width="1.2"/>
<rect x="266.3" y="904.8" width="10.5" height="0.8" fill="#cdcdcd" stroke="#222" stroke-width="0.9"/>
<rect x="276.8" y="897.7" width="10.5" height="7.9" fill="#858585" stroke="#222" stroke-width="0.9"/>
<rect x="302.0" y="904.6" width="10.5" height="1.0" fill="#cdcdcd" stroke="#222" stroke-width="0.9"/>
<rect x="312.5" y="857.2" width="10.5" height="48.4" fill="#858585" stroke="#222" stroke-width="0.9"/>
<line x1="317.75" y1="857.2248" x2="317.75" y2="852.3288" stroke="#222" stroke-width="1"/>
<line x1="315.25" y1="852.3288" x2="320.25" y2="852.3288" stroke="#222" stroke-width="1.2"/>
<rect x="337.2" y="904.4" width="10.5" height="1.2" fill="#cdcdcd" stroke="#222" stroke-width="0.9"/>
<rect x="347.7" y="901.0" width="10.5" height="4.6" fill="#858585" stroke="#222" stroke-width="0.9"/>
<text x="91.71" y="758.39" font-size="10.56" stroke="#000" stroke-width="0.22" fill="#000" textLength="24.21" lengthAdjust="spacingAndGlyphs">9944</text>
<text x="128.17" y="892.19" font-size="10.99" stroke="#000" stroke-width="0.22" fill="#000" textLength="19.21" lengthAdjust="spacingAndGlyphs">614</text>
<text x="162.25" y="803.40" font-size="10.28" stroke="#000" stroke-width="0.22" fill="#000" textLength="24.50" lengthAdjust="spacingAndGlyphs">6692</text>
<text x="201.95" y="892.19" font-size="10.99" stroke="#000" stroke-width="0.22" fill="#000" textLength="13.70" lengthAdjust="spacingAndGlyphs">82</text>
<text x="235.80" y="845.80" font-size="10.28" stroke="#000" stroke-width="0.22" fill="#000" textLength="25.15" lengthAdjust="spacingAndGlyphs">3528</text>
<text x="273.29" y="892.19" font-size="10.99" stroke="#000" stroke-width="0.22" fill="#000" textLength="19.21" lengthAdjust="spacingAndGlyphs">578</text>
<text x="304.55" y="845.20" font-size="10.28" stroke="#000" stroke-width="0.22" fill="#000" textLength="25.27" lengthAdjust="spacingAndGlyphs">3557</text>
<text x="343.31" y="892.19" font-size="10.99" stroke="#000" stroke-width="0.22" fill="#000" textLength="18.48" lengthAdjust="spacingAndGlyphs">339</text>
<line x1="80.5" y1="905.6" x2="80.5" y2="908.1" stroke="#8c8c8c" stroke-width="1"/>
<line x1="116.22999999999999" y1="905.6" x2="116.22999999999999" y2="908.1" stroke="#8c8c8c" stroke-width="1"/>
<line x1="151.95999999999998" y1="905.6" x2="151.95999999999998" y2="908.1" stroke="#8c8c8c" stroke-width="1"/>
<line x1="187.69" y1="905.6" x2="187.69" y2="908.1" stroke="#8c8c8c" stroke-width="1"/>
<line x1="223.42" y1="905.6" x2="223.42" y2="908.1" stroke="#8c8c8c" stroke-width="1"/>
<line x1="259.15" y1="905.6" x2="259.15" y2="908.1" stroke="#8c8c8c" stroke-width="1"/>
<line x1="294.88" y1="905.6" x2="294.88" y2="908.1" stroke="#8c8c8c" stroke-width="1"/>
<line x1="330.61" y1="905.6" x2="330.61" y2="908.1" stroke="#8c8c8c" stroke-width="1"/>
<line x1="366.34" y1="905.6" x2="366.34" y2="908.1" stroke="#8c8c8c" stroke-width="1"/>
<rect x="309.7" y="750.7" width="9.8" height="9.8" fill="#cdcdcd" stroke="#333" stroke-width="0.9"/>
<rect x="309.7" y="765.7" width="9.8" height="9.8" fill="#858585" stroke="#333" stroke-width="0.9"/>
<text x="320.18" y="758.69" font-size="11.29" stroke="#000" stroke-width="0.22" fill="#000" textLength="30.21" lengthAdjust="spacingAndGlyphs">mock</text>
<text x="320.75" y="773.67" font-size="12.52" stroke="#000" stroke-width="0.22" fill="#000" textLength="41.24" lengthAdjust="spacingAndGlyphs">TB40/E</text>
<text x="-849.48" y="0" font-size="11.2" transform="translate(37.9,0) rotate(-90)" textLength="22.94" lengthAdjust="spacingAndGlyphs">IFN&#947;</text>
<text x="-820.63" y="0" font-size="11.2" transform="translate(37.9,0) rotate(-90)" textLength="31.26" lengthAdjust="spacingAndGlyphs">pg/mL</text>
<text x="96.50" y="918.30" font-size="12.50" fill="#000" text-anchor="middle">-</text>
<text x="132.10" y="918.30" font-size="12.50" fill="#000" text-anchor="middle">+</text>
<text x="167.10" y="918.30" font-size="12.50" fill="#000" text-anchor="middle">-</text>
<text x="203.80" y="918.30" font-size="12.50" fill="#000" text-anchor="middle">+</text>
<text x="239.50" y="918.30" font-size="12.50" fill="#000" text-anchor="middle">-</text>
<text x="274.60" y="918.30" font-size="12.50" fill="#000" text-anchor="middle">+</text>
<text x="310.30" y="918.30" font-size="12.50" fill="#000" text-anchor="middle">-</text>
<text x="345.50" y="918.30" font-size="12.50" fill="#000" text-anchor="middle">+</text>
<text x="96.50" y="937.30" font-size="12.50" fill="#000" text-anchor="middle">-</text>
<text x="132.10" y="937.30" font-size="12.50" fill="#000" text-anchor="middle">-</text>
<text x="167.10" y="937.30" font-size="12.50" fill="#000" text-anchor="middle">+</text>
<text x="203.80" y="937.30" font-size="12.50" fill="#000" text-anchor="middle">+</text>
<text x="239.50" y="937.30" font-size="12.50" fill="#000" text-anchor="middle">-</text>
<text x="274.60" y="937.30" font-size="12.50" fill="#000" text-anchor="middle">-</text>
<text x="310.30" y="937.30" font-size="12.50" fill="#000" text-anchor="middle">+</text>
<text x="345.50" y="937.30" font-size="12.50" fill="#000" text-anchor="middle">+</text>
<text x="96.50" y="956.50" font-size="12.50" fill="#000" text-anchor="middle">-</text>
<text x="132.10" y="956.50" font-size="12.50" fill="#000" text-anchor="middle">-</text>
<text x="167.10" y="956.50" font-size="12.50" fill="#000" text-anchor="middle">-</text>
<text x="203.80" y="956.50" font-size="12.50" fill="#000" text-anchor="middle">-</text>
<text x="239.50" y="956.50" font-size="12.50" fill="#000" text-anchor="middle">+</text>
<text x="274.60" y="956.50" font-size="12.50" fill="#000" text-anchor="middle">+</text>
<text x="310.30" y="956.50" font-size="12.50" fill="#000" text-anchor="middle">+</text>
<text x="345.50" y="956.50" font-size="12.50" fill="#000" text-anchor="middle">+</text>
<text x="380.23" y="916.88" font-size="11.55" stroke="#000" stroke-width="0.22" fill="#000" textLength="40.05" lengthAdjust="spacingAndGlyphs">a-IL-12</text>
<text x="380.24" y="936.08" font-size="12.43" stroke="#000" stroke-width="0.22" fill="#000" textLength="48.68" lengthAdjust="spacingAndGlyphs">a-IFNAR</text>
<text x="380.23" y="953.69" font-size="11.43" stroke="#000" stroke-width="0.22" fill="#000" textLength="39.92" lengthAdjust="spacingAndGlyphs">a-IL-15</text>
</svg>
</body></html>
